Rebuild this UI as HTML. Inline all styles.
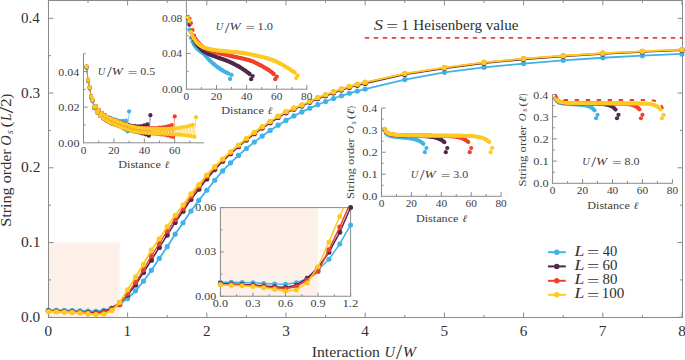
<!DOCTYPE html>
<html><head><meta charset="utf-8"><style>
html,body{margin:0;padding:0;background:#fff;}
svg{display:block;font-family:"Liberation Serif",serif;}
</style></head><body>
<svg width="685" height="360" viewBox="0 0 685 360">
<rect width="685" height="360" fill="#fff"/>
<rect x="48.5" y="242.55" width="71.18" height="74.75" fill="#fcf0e8"/>
<line x1="48.5" y1="0" x2="48.5" y2="318" stroke="#8a8a8a" stroke-width="1"/>
<line x1="48" y1="317.5" x2="683" y2="317.5" stroke="#8a8a8a" stroke-width="1"/>
<line x1="48" y1="0.5" x2="683" y2="0.5" stroke="#8a8a8a" stroke-width="1"/>
<line x1="682.5" y1="0" x2="682.5" y2="318" stroke="#8a8a8a" stroke-width="1"/>
<line x1="48.4" y1="317.5" x2="48.4" y2="312.5" stroke="#8a8a8a" stroke-width="1"/>
<line x1="48.4" y1="0.5" x2="48.4" y2="5.5" stroke="#8a8a8a" stroke-width="1"/>
<line x1="88" y1="317.5" x2="88" y2="315" stroke="#8a8a8a" stroke-width="1"/>
<line x1="88" y1="0.5" x2="88" y2="3" stroke="#8a8a8a" stroke-width="1"/>
<line x1="127.6" y1="317.5" x2="127.6" y2="312.5" stroke="#8a8a8a" stroke-width="1"/>
<line x1="127.6" y1="0.5" x2="127.6" y2="5.5" stroke="#8a8a8a" stroke-width="1"/>
<line x1="167.2" y1="317.5" x2="167.2" y2="315" stroke="#8a8a8a" stroke-width="1"/>
<line x1="167.2" y1="0.5" x2="167.2" y2="3" stroke="#8a8a8a" stroke-width="1"/>
<line x1="206.8" y1="317.5" x2="206.8" y2="312.5" stroke="#8a8a8a" stroke-width="1"/>
<line x1="206.8" y1="0.5" x2="206.8" y2="5.5" stroke="#8a8a8a" stroke-width="1"/>
<line x1="246.4" y1="317.5" x2="246.4" y2="315" stroke="#8a8a8a" stroke-width="1"/>
<line x1="246.4" y1="0.5" x2="246.4" y2="3" stroke="#8a8a8a" stroke-width="1"/>
<line x1="286" y1="317.5" x2="286" y2="312.5" stroke="#8a8a8a" stroke-width="1"/>
<line x1="286" y1="0.5" x2="286" y2="5.5" stroke="#8a8a8a" stroke-width="1"/>
<line x1="325.6" y1="317.5" x2="325.6" y2="315" stroke="#8a8a8a" stroke-width="1"/>
<line x1="325.6" y1="0.5" x2="325.6" y2="3" stroke="#8a8a8a" stroke-width="1"/>
<line x1="365.2" y1="317.5" x2="365.2" y2="312.5" stroke="#8a8a8a" stroke-width="1"/>
<line x1="365.2" y1="0.5" x2="365.2" y2="5.5" stroke="#8a8a8a" stroke-width="1"/>
<line x1="404.8" y1="317.5" x2="404.8" y2="315" stroke="#8a8a8a" stroke-width="1"/>
<line x1="404.8" y1="0.5" x2="404.8" y2="3" stroke="#8a8a8a" stroke-width="1"/>
<line x1="444.4" y1="317.5" x2="444.4" y2="312.5" stroke="#8a8a8a" stroke-width="1"/>
<line x1="444.4" y1="0.5" x2="444.4" y2="5.5" stroke="#8a8a8a" stroke-width="1"/>
<line x1="484" y1="317.5" x2="484" y2="315" stroke="#8a8a8a" stroke-width="1"/>
<line x1="484" y1="0.5" x2="484" y2="3" stroke="#8a8a8a" stroke-width="1"/>
<line x1="523.6" y1="317.5" x2="523.6" y2="312.5" stroke="#8a8a8a" stroke-width="1"/>
<line x1="523.6" y1="0.5" x2="523.6" y2="5.5" stroke="#8a8a8a" stroke-width="1"/>
<line x1="563.2" y1="317.5" x2="563.2" y2="315" stroke="#8a8a8a" stroke-width="1"/>
<line x1="563.2" y1="0.5" x2="563.2" y2="3" stroke="#8a8a8a" stroke-width="1"/>
<line x1="602.8" y1="317.5" x2="602.8" y2="312.5" stroke="#8a8a8a" stroke-width="1"/>
<line x1="602.8" y1="0.5" x2="602.8" y2="5.5" stroke="#8a8a8a" stroke-width="1"/>
<line x1="642.4" y1="317.5" x2="642.4" y2="315" stroke="#8a8a8a" stroke-width="1"/>
<line x1="642.4" y1="0.5" x2="642.4" y2="3" stroke="#8a8a8a" stroke-width="1"/>
<line x1="682" y1="317.5" x2="682" y2="312.5" stroke="#8a8a8a" stroke-width="1"/>
<line x1="682" y1="0.5" x2="682" y2="5.5" stroke="#8a8a8a" stroke-width="1"/>
<line x1="48.5" y1="317.3" x2="53.5" y2="317.3" stroke="#8a8a8a" stroke-width="1"/>
<line x1="682.5" y1="317.3" x2="677.5" y2="317.3" stroke="#8a8a8a" stroke-width="1"/>
<line x1="48.5" y1="279.93" x2="51" y2="279.93" stroke="#8a8a8a" stroke-width="1"/>
<line x1="682.5" y1="279.93" x2="680" y2="279.93" stroke="#8a8a8a" stroke-width="1"/>
<line x1="48.5" y1="242.55" x2="53.5" y2="242.55" stroke="#8a8a8a" stroke-width="1"/>
<line x1="682.5" y1="242.55" x2="677.5" y2="242.55" stroke="#8a8a8a" stroke-width="1"/>
<line x1="48.5" y1="205.18" x2="51" y2="205.18" stroke="#8a8a8a" stroke-width="1"/>
<line x1="682.5" y1="205.18" x2="680" y2="205.18" stroke="#8a8a8a" stroke-width="1"/>
<line x1="48.5" y1="167.8" x2="53.5" y2="167.8" stroke="#8a8a8a" stroke-width="1"/>
<line x1="682.5" y1="167.8" x2="677.5" y2="167.8" stroke="#8a8a8a" stroke-width="1"/>
<line x1="48.5" y1="130.43" x2="51" y2="130.43" stroke="#8a8a8a" stroke-width="1"/>
<line x1="682.5" y1="130.43" x2="680" y2="130.43" stroke="#8a8a8a" stroke-width="1"/>
<line x1="48.5" y1="93.05" x2="53.5" y2="93.05" stroke="#8a8a8a" stroke-width="1"/>
<line x1="682.5" y1="93.05" x2="677.5" y2="93.05" stroke="#8a8a8a" stroke-width="1"/>
<line x1="48.5" y1="55.68" x2="51" y2="55.68" stroke="#8a8a8a" stroke-width="1"/>
<line x1="682.5" y1="55.68" x2="680" y2="55.68" stroke="#8a8a8a" stroke-width="1"/>
<line x1="48.5" y1="18.3" x2="53.5" y2="18.3" stroke="#8a8a8a" stroke-width="1"/>
<line x1="682.5" y1="18.3" x2="677.5" y2="18.3" stroke="#8a8a8a" stroke-width="1"/>
<text x="21.09" y="321.9" font-size="15.4" textLength="19.12" lengthAdjust="spacingAndGlyphs" fill="#303030">0.0</text>
<text x="21.08" y="247.15" font-size="15.4" textLength="19.46" lengthAdjust="spacingAndGlyphs" fill="#303030">0.1</text>
<text x="21.08" y="172.4" font-size="15.4" textLength="19.37" lengthAdjust="spacingAndGlyphs" fill="#303030">0.2</text>
<text x="21.09" y="97.65" font-size="15.4" textLength="19.12" lengthAdjust="spacingAndGlyphs" fill="#303030">0.3</text>
<text x="21.1" y="22.9" font-size="15.4" textLength="18.72" lengthAdjust="spacingAndGlyphs" fill="#303030">0.4</text>
<text x="44.6" y="335.5" font-size="15.2" textLength="7.6" lengthAdjust="spacingAndGlyphs" fill="#303030">0</text>
<text x="123.61" y="335.5" font-size="15.2" textLength="7.6" lengthAdjust="spacingAndGlyphs" fill="#303030">1</text>
<text x="203.08" y="335.5" font-size="15.2" textLength="7.6" lengthAdjust="spacingAndGlyphs" fill="#303030">2</text>
<text x="282.16" y="335.5" font-size="15.2" textLength="7.6" lengthAdjust="spacingAndGlyphs" fill="#303030">3</text>
<text x="361.36" y="335.5" font-size="15.2" textLength="7.6" lengthAdjust="spacingAndGlyphs" fill="#303030">4</text>
<text x="440.45" y="335.5" font-size="15.2" textLength="7.6" lengthAdjust="spacingAndGlyphs" fill="#303030">5</text>
<text x="519.72" y="335.5" font-size="15.2" textLength="7.6" lengthAdjust="spacingAndGlyphs" fill="#303030">6</text>
<text x="598.73" y="335.5" font-size="15.2" textLength="7.6" lengthAdjust="spacingAndGlyphs" fill="#303030">7</text>
<text x="678.2" y="335.5" font-size="15.2" textLength="7.6" lengthAdjust="spacingAndGlyphs" fill="#303030">8</text>
<text x="311.75" y="356.7" font-size="15.6" textLength="68.2" lengthAdjust="spacingAndGlyphs" fill="#303030">Interaction</text>
<text x="384.39" y="356.7" font-size="15.6" font-style="italic" textLength="10.54" lengthAdjust="spacingAndGlyphs" fill="#303030">U</text>
<text x="396" y="359.4" font-size="20.6" textLength="6.16" lengthAdjust="spacingAndGlyphs" fill="#303030">/</text>
<text x="402.66" y="356.7" font-size="15.6" font-style="italic" textLength="13.31" lengthAdjust="spacingAndGlyphs" fill="#303030">W</text>
<g transform="translate(10.8,0) rotate(-90)">
<text x="-226.85" y="0" font-size="14.8" textLength="77.61" lengthAdjust="spacingAndGlyphs" fill="#303030">String order</text>
<text x="-145.72" y="0" font-size="14.8" font-style="italic" textLength="10.44" lengthAdjust="spacingAndGlyphs" fill="#303030">O</text>
<text x="-133.99" y="2.3" font-size="10.5" font-style="italic" textLength="3.67" lengthAdjust="spacingAndGlyphs" fill="#3d3d3d">s</text>
<text x="-127.49" y="0" font-size="14.8" textLength="5.88" lengthAdjust="spacingAndGlyphs" fill="#303030">(</text>
<text x="-120.87" y="0" font-size="14.8" font-style="italic" textLength="7.06" lengthAdjust="spacingAndGlyphs" fill="#303030">L</text>
<text x="-113.3" y="2.6" font-size="20.6" textLength="6.67" lengthAdjust="spacingAndGlyphs" fill="#303030">/</text>
<text x="-106.85" y="0" font-size="14.8" textLength="8.38" lengthAdjust="spacingAndGlyphs" fill="#303030">2</text>
<text x="-98.75" y="0" font-size="14.8" textLength="5" lengthAdjust="spacingAndGlyphs" fill="#303030">)</text>
</g>
<line x1="364.8" y1="37.9" x2="683" y2="37.9" stroke="#f0402a" stroke-width="1.9" stroke-dasharray="4.4 4.6"/>
<text x="373.81" y="29.8" font-size="14.8" font-style="italic" textLength="9.26" lengthAdjust="spacingAndGlyphs" fill="#303030">S</text>
<text x="386.35" y="30.9" font-size="14.8" textLength="11.89" lengthAdjust="spacingAndGlyphs" fill="#303030">=</text>
<text x="401.18" y="29.8" font-size="14.8" textLength="7.75" lengthAdjust="spacingAndGlyphs" fill="#303030">1</text>
<text x="413.35" y="29.8" font-size="14.8" textLength="105.2" lengthAdjust="spacingAndGlyphs" fill="#303030">Heisenberg value</text>
<polyline points="48.4,310.2 56.32,310.27 64.24,310.35 72.16,310.5 80.08,310.8 88,311.1 95.92,311.25 103.84,310.42 111.76,308.48 119.68,303.99 127.6,298.61 135.52,290.84 143.44,281.2 151.36,270.36 159.28,258.4 167.2,246.66 175.12,234.18 183.04,222.74 190.96,211.01 198.88,200.32 206.8,190.23 214.72,180.26 222.64,170.94 230.56,162.81 238.48,155.39 246.4,148.5 254.32,142.09 262.24,136.05 270.16,130.43 278.08,125.22 286,120.41 293.92,115.97 301.84,111.89 309.76,108.16 317.68,104.71 325.6,101.49 333.52,98.51 341.44,95.77 349.36,93.27 357.28,91.06 365.2,89.01 404.8,79.59 444.4,72.34 484,67.34 523.6,63.6 563.2,60.31 602.8,57.77 642.4,55.68 682,53.96" fill="none" stroke="#41b2e8" stroke-width="1.8" stroke-linejoin="round"/>
<circle cx="48.4" cy="310.2" r="2.6" fill="#41b2e8"/>
<circle cx="56.32" cy="310.27" r="2.6" fill="#41b2e8"/>
<circle cx="64.24" cy="310.35" r="2.6" fill="#41b2e8"/>
<circle cx="72.16" cy="310.5" r="2.6" fill="#41b2e8"/>
<circle cx="80.08" cy="310.8" r="2.6" fill="#41b2e8"/>
<circle cx="88" cy="311.1" r="2.6" fill="#41b2e8"/>
<circle cx="95.92" cy="311.25" r="2.6" fill="#41b2e8"/>
<circle cx="103.84" cy="310.42" r="2.6" fill="#41b2e8"/>
<circle cx="111.76" cy="308.48" r="2.6" fill="#41b2e8"/>
<circle cx="119.68" cy="303.99" r="2.6" fill="#41b2e8"/>
<circle cx="127.6" cy="298.61" r="2.6" fill="#41b2e8"/>
<circle cx="135.52" cy="290.84" r="2.6" fill="#41b2e8"/>
<circle cx="143.44" cy="281.2" r="2.6" fill="#41b2e8"/>
<circle cx="151.36" cy="270.36" r="2.6" fill="#41b2e8"/>
<circle cx="159.28" cy="258.4" r="2.6" fill="#41b2e8"/>
<circle cx="167.2" cy="246.66" r="2.6" fill="#41b2e8"/>
<circle cx="175.12" cy="234.18" r="2.6" fill="#41b2e8"/>
<circle cx="183.04" cy="222.74" r="2.6" fill="#41b2e8"/>
<circle cx="190.96" cy="211.01" r="2.6" fill="#41b2e8"/>
<circle cx="198.88" cy="200.32" r="2.6" fill="#41b2e8"/>
<circle cx="206.8" cy="190.23" r="2.6" fill="#41b2e8"/>
<circle cx="214.72" cy="180.26" r="2.6" fill="#41b2e8"/>
<circle cx="222.64" cy="170.94" r="2.6" fill="#41b2e8"/>
<circle cx="230.56" cy="162.81" r="2.6" fill="#41b2e8"/>
<circle cx="238.48" cy="155.39" r="2.6" fill="#41b2e8"/>
<circle cx="246.4" cy="148.5" r="2.6" fill="#41b2e8"/>
<circle cx="254.32" cy="142.09" r="2.6" fill="#41b2e8"/>
<circle cx="262.24" cy="136.05" r="2.6" fill="#41b2e8"/>
<circle cx="270.16" cy="130.43" r="2.6" fill="#41b2e8"/>
<circle cx="278.08" cy="125.22" r="2.6" fill="#41b2e8"/>
<circle cx="286" cy="120.41" r="2.6" fill="#41b2e8"/>
<circle cx="293.92" cy="115.97" r="2.6" fill="#41b2e8"/>
<circle cx="301.84" cy="111.89" r="2.6" fill="#41b2e8"/>
<circle cx="309.76" cy="108.16" r="2.6" fill="#41b2e8"/>
<circle cx="317.68" cy="104.71" r="2.6" fill="#41b2e8"/>
<circle cx="325.6" cy="101.49" r="2.6" fill="#41b2e8"/>
<circle cx="333.52" cy="98.51" r="2.6" fill="#41b2e8"/>
<circle cx="341.44" cy="95.77" r="2.6" fill="#41b2e8"/>
<circle cx="349.36" cy="93.27" r="2.6" fill="#41b2e8"/>
<circle cx="357.28" cy="91.06" r="2.6" fill="#41b2e8"/>
<circle cx="365.2" cy="89.01" r="2.6" fill="#41b2e8"/>
<circle cx="404.8" cy="79.59" r="2.6" fill="#41b2e8"/>
<circle cx="444.4" cy="72.34" r="2.6" fill="#41b2e8"/>
<circle cx="484" cy="67.34" r="2.6" fill="#41b2e8"/>
<circle cx="523.6" cy="63.6" r="2.6" fill="#41b2e8"/>
<circle cx="563.2" cy="60.31" r="2.6" fill="#41b2e8"/>
<circle cx="602.8" cy="57.77" r="2.6" fill="#41b2e8"/>
<circle cx="642.4" cy="55.68" r="2.6" fill="#41b2e8"/>
<circle cx="682" cy="53.96" r="2.6" fill="#41b2e8"/>
<polyline points="48.4,310.87 56.32,311.1 64.24,311.32 72.16,311.62 80.08,312.07 88,312.52 95.92,312.81 103.84,311.69 111.76,308.26 119.68,302.72 127.6,295.1 135.52,284.93 143.44,272.45 151.36,260.19 159.28,247.39 167.2,235.09 175.12,222.45 183.04,211.23 190.96,199.42 198.88,189.22 206.8,178.88 214.72,169.61 222.64,161.22 230.56,153.66 238.48,146.69 246.4,140.01 254.32,133.77 262.24,128.07 270.16,122.73 278.08,117.48 286,112.82 293.92,109.27 301.84,105.98 309.76,102.26 317.68,98.69 325.6,95.69 333.52,92.89 341.44,90.07 349.36,87.49 357.28,85.35 365.2,83.42 404.8,74.51 444.4,68.34 484,63.14 523.6,59.41 563.2,56.37 602.8,53.89 642.4,51.99 682,50.21" fill="none" stroke="#50284a" stroke-width="1.6" stroke-linejoin="round"/>
<circle cx="48.4" cy="310.87" r="2.6" fill="#50284a"/>
<circle cx="56.32" cy="311.1" r="2.6" fill="#50284a"/>
<circle cx="64.24" cy="311.32" r="2.6" fill="#50284a"/>
<circle cx="72.16" cy="311.62" r="2.6" fill="#50284a"/>
<circle cx="80.08" cy="312.07" r="2.6" fill="#50284a"/>
<circle cx="88" cy="312.52" r="2.6" fill="#50284a"/>
<circle cx="95.92" cy="312.81" r="2.6" fill="#50284a"/>
<circle cx="103.84" cy="311.69" r="2.6" fill="#50284a"/>
<circle cx="111.76" cy="308.26" r="2.6" fill="#50284a"/>
<circle cx="119.68" cy="302.72" r="2.6" fill="#50284a"/>
<circle cx="127.6" cy="295.1" r="2.6" fill="#50284a"/>
<circle cx="135.52" cy="284.93" r="2.6" fill="#50284a"/>
<circle cx="143.44" cy="272.45" r="2.6" fill="#50284a"/>
<circle cx="151.36" cy="260.19" r="2.6" fill="#50284a"/>
<circle cx="159.28" cy="247.39" r="2.6" fill="#50284a"/>
<circle cx="167.2" cy="235.09" r="2.6" fill="#50284a"/>
<circle cx="175.12" cy="222.45" r="2.6" fill="#50284a"/>
<circle cx="183.04" cy="211.23" r="2.6" fill="#50284a"/>
<circle cx="190.96" cy="199.42" r="2.6" fill="#50284a"/>
<circle cx="198.88" cy="189.22" r="2.6" fill="#50284a"/>
<circle cx="206.8" cy="178.88" r="2.6" fill="#50284a"/>
<circle cx="214.72" cy="169.61" r="2.6" fill="#50284a"/>
<circle cx="222.64" cy="161.22" r="2.6" fill="#50284a"/>
<circle cx="230.56" cy="153.66" r="2.6" fill="#50284a"/>
<circle cx="238.48" cy="146.69" r="2.6" fill="#50284a"/>
<circle cx="246.4" cy="140.01" r="2.6" fill="#50284a"/>
<circle cx="254.32" cy="133.77" r="2.6" fill="#50284a"/>
<circle cx="262.24" cy="128.07" r="2.6" fill="#50284a"/>
<circle cx="270.16" cy="122.73" r="2.6" fill="#50284a"/>
<circle cx="278.08" cy="117.48" r="2.6" fill="#50284a"/>
<circle cx="286" cy="112.82" r="2.6" fill="#50284a"/>
<circle cx="293.92" cy="109.27" r="2.6" fill="#50284a"/>
<circle cx="301.84" cy="105.98" r="2.6" fill="#50284a"/>
<circle cx="309.76" cy="102.26" r="2.6" fill="#50284a"/>
<circle cx="317.68" cy="98.69" r="2.6" fill="#50284a"/>
<circle cx="325.6" cy="95.69" r="2.6" fill="#50284a"/>
<circle cx="333.52" cy="92.89" r="2.6" fill="#50284a"/>
<circle cx="341.44" cy="90.07" r="2.6" fill="#50284a"/>
<circle cx="349.36" cy="87.49" r="2.6" fill="#50284a"/>
<circle cx="357.28" cy="85.35" r="2.6" fill="#50284a"/>
<circle cx="365.2" cy="83.42" r="2.6" fill="#50284a"/>
<circle cx="404.8" cy="74.51" r="2.6" fill="#50284a"/>
<circle cx="444.4" cy="68.34" r="2.6" fill="#50284a"/>
<circle cx="484" cy="63.14" r="2.6" fill="#50284a"/>
<circle cx="523.6" cy="59.41" r="2.6" fill="#50284a"/>
<circle cx="563.2" cy="56.37" r="2.6" fill="#50284a"/>
<circle cx="602.8" cy="53.89" r="2.6" fill="#50284a"/>
<circle cx="642.4" cy="51.99" r="2.6" fill="#50284a"/>
<circle cx="682" cy="50.21" r="2.6" fill="#50284a"/>
<polyline points="48.4,311.25 56.32,311.47 64.24,311.69 72.16,311.99 80.08,312.52 88,313.04 95.92,313.49 103.84,312.37 111.76,309.08 119.68,304.74 127.6,293.83 135.52,282.24 143.44,269.83 151.36,255.86 159.28,243.65 167.2,231.09 175.12,219.43 183.04,208.57 190.96,196.57 198.88,186.41 206.8,176.43 214.72,167.78 222.64,159.9 230.56,152.56 238.48,145.65 246.4,139.01 254.32,132.78 262.24,127.12 270.16,121.8 278.08,116.53 286,111.85 293.92,108.38 301.84,105.16 309.76,101.41 317.68,97.78 325.6,94.77 333.52,91.97 341.44,89.11 349.36,86.48 357.28,84.35 365.2,82.44 404.8,73.62 444.4,67.63 484,62.4 523.6,58.67 563.2,55.68 602.8,53.21 642.4,51.34 682,49.55" fill="none" stroke="#f0402a" stroke-width="1.3" stroke-linejoin="round"/>
<circle cx="48.4" cy="311.25" r="2.6" fill="#f0402a"/>
<circle cx="56.32" cy="311.47" r="2.6" fill="#f0402a"/>
<circle cx="64.24" cy="311.69" r="2.6" fill="#f0402a"/>
<circle cx="72.16" cy="311.99" r="2.6" fill="#f0402a"/>
<circle cx="80.08" cy="312.52" r="2.6" fill="#f0402a"/>
<circle cx="88" cy="313.04" r="2.6" fill="#f0402a"/>
<circle cx="95.92" cy="313.49" r="2.6" fill="#f0402a"/>
<circle cx="103.84" cy="312.37" r="2.6" fill="#f0402a"/>
<circle cx="111.76" cy="309.08" r="2.6" fill="#f0402a"/>
<circle cx="119.68" cy="304.74" r="2.6" fill="#f0402a"/>
<circle cx="127.6" cy="293.83" r="2.6" fill="#f0402a"/>
<circle cx="135.52" cy="282.24" r="2.6" fill="#f0402a"/>
<circle cx="143.44" cy="269.83" r="2.6" fill="#f0402a"/>
<circle cx="151.36" cy="255.86" r="2.6" fill="#f0402a"/>
<circle cx="159.28" cy="243.65" r="2.6" fill="#f0402a"/>
<circle cx="167.2" cy="231.09" r="2.6" fill="#f0402a"/>
<circle cx="175.12" cy="219.43" r="2.6" fill="#f0402a"/>
<circle cx="183.04" cy="208.57" r="2.6" fill="#f0402a"/>
<circle cx="190.96" cy="196.57" r="2.6" fill="#f0402a"/>
<circle cx="198.88" cy="186.41" r="2.6" fill="#f0402a"/>
<circle cx="206.8" cy="176.43" r="2.6" fill="#f0402a"/>
<circle cx="214.72" cy="167.78" r="2.6" fill="#f0402a"/>
<circle cx="222.64" cy="159.9" r="2.6" fill="#f0402a"/>
<circle cx="230.56" cy="152.56" r="2.6" fill="#f0402a"/>
<circle cx="238.48" cy="145.65" r="2.6" fill="#f0402a"/>
<circle cx="246.4" cy="139.01" r="2.6" fill="#f0402a"/>
<circle cx="254.32" cy="132.78" r="2.6" fill="#f0402a"/>
<circle cx="262.24" cy="127.12" r="2.6" fill="#f0402a"/>
<circle cx="270.16" cy="121.8" r="2.6" fill="#f0402a"/>
<circle cx="278.08" cy="116.53" r="2.6" fill="#f0402a"/>
<circle cx="286" cy="111.85" r="2.6" fill="#f0402a"/>
<circle cx="293.92" cy="108.38" r="2.6" fill="#f0402a"/>
<circle cx="301.84" cy="105.16" r="2.6" fill="#f0402a"/>
<circle cx="309.76" cy="101.41" r="2.6" fill="#f0402a"/>
<circle cx="317.68" cy="97.78" r="2.6" fill="#f0402a"/>
<circle cx="325.6" cy="94.77" r="2.6" fill="#f0402a"/>
<circle cx="333.52" cy="91.97" r="2.6" fill="#f0402a"/>
<circle cx="341.44" cy="89.11" r="2.6" fill="#f0402a"/>
<circle cx="349.36" cy="86.48" r="2.6" fill="#f0402a"/>
<circle cx="357.28" cy="84.35" r="2.6" fill="#f0402a"/>
<circle cx="365.2" cy="82.44" r="2.6" fill="#f0402a"/>
<circle cx="404.8" cy="73.62" r="2.6" fill="#f0402a"/>
<circle cx="444.4" cy="67.63" r="2.6" fill="#f0402a"/>
<circle cx="484" cy="62.4" r="2.6" fill="#f0402a"/>
<circle cx="523.6" cy="58.67" r="2.6" fill="#f0402a"/>
<circle cx="563.2" cy="55.68" r="2.6" fill="#f0402a"/>
<circle cx="602.8" cy="53.21" r="2.6" fill="#f0402a"/>
<circle cx="642.4" cy="51.34" r="2.6" fill="#f0402a"/>
<circle cx="682" cy="49.55" r="2.6" fill="#f0402a"/>
<polyline points="48.4,311.54 56.32,311.77 64.24,311.99 72.16,312.37 80.08,312.96 88,313.71 95.92,314.61 103.84,314.09 111.76,310.57 119.68,302.35 127.6,289.79 135.52,276.94 143.44,264.23 151.36,250.03 159.28,238.74 167.2,226.7 175.12,215.27 183.04,205.03 190.96,193.96 198.88,184.69 206.8,174.98 214.72,166.63 222.64,158.98 230.56,151.79 238.48,145 246.4,138.45 254.32,132.29 262.24,126.7 270.16,121.46 278.08,116.22 286,111.59 293.92,108.18 301.84,105.01 309.76,101.29 317.68,97.68 325.6,94.7 333.52,91.93 341.44,89.08 349.36,86.47 357.28,84.35 365.2,82.44 404.8,73.62 444.4,67.63 484,62.4 523.6,58.67 563.2,55.68 602.8,53.21 642.4,51.34 682,49.55" fill="none" stroke="#fdca22" stroke-width="1.9" stroke-linejoin="round"/>
<circle cx="48.4" cy="311.54" r="2.6" fill="#fdca22"/>
<circle cx="56.32" cy="311.77" r="2.6" fill="#fdca22"/>
<circle cx="64.24" cy="311.99" r="2.6" fill="#fdca22"/>
<circle cx="72.16" cy="312.37" r="2.6" fill="#fdca22"/>
<circle cx="80.08" cy="312.96" r="2.6" fill="#fdca22"/>
<circle cx="88" cy="313.71" r="2.6" fill="#fdca22"/>
<circle cx="95.92" cy="314.61" r="2.6" fill="#fdca22"/>
<circle cx="103.84" cy="314.09" r="2.6" fill="#fdca22"/>
<circle cx="111.76" cy="310.57" r="2.6" fill="#fdca22"/>
<circle cx="119.68" cy="302.35" r="2.6" fill="#fdca22"/>
<circle cx="127.6" cy="289.79" r="2.6" fill="#fdca22"/>
<circle cx="135.52" cy="276.94" r="2.6" fill="#fdca22"/>
<circle cx="143.44" cy="264.23" r="2.6" fill="#fdca22"/>
<circle cx="151.36" cy="250.03" r="2.6" fill="#fdca22"/>
<circle cx="159.28" cy="238.74" r="2.6" fill="#fdca22"/>
<circle cx="167.2" cy="226.7" r="2.6" fill="#fdca22"/>
<circle cx="175.12" cy="215.27" r="2.6" fill="#fdca22"/>
<circle cx="183.04" cy="205.03" r="2.6" fill="#fdca22"/>
<circle cx="190.96" cy="193.96" r="2.6" fill="#fdca22"/>
<circle cx="198.88" cy="184.69" r="2.6" fill="#fdca22"/>
<circle cx="206.8" cy="174.98" r="2.6" fill="#fdca22"/>
<circle cx="214.72" cy="166.63" r="2.6" fill="#fdca22"/>
<circle cx="222.64" cy="158.98" r="2.6" fill="#fdca22"/>
<circle cx="230.56" cy="151.79" r="2.6" fill="#fdca22"/>
<circle cx="238.48" cy="145" r="2.6" fill="#fdca22"/>
<circle cx="246.4" cy="138.45" r="2.6" fill="#fdca22"/>
<circle cx="254.32" cy="132.29" r="2.6" fill="#fdca22"/>
<circle cx="262.24" cy="126.7" r="2.6" fill="#fdca22"/>
<circle cx="270.16" cy="121.46" r="2.6" fill="#fdca22"/>
<circle cx="278.08" cy="116.22" r="2.6" fill="#fdca22"/>
<circle cx="286" cy="111.59" r="2.6" fill="#fdca22"/>
<circle cx="293.92" cy="108.18" r="2.6" fill="#fdca22"/>
<circle cx="301.84" cy="105.01" r="2.6" fill="#fdca22"/>
<circle cx="309.76" cy="101.29" r="2.6" fill="#fdca22"/>
<circle cx="317.68" cy="97.68" r="2.6" fill="#fdca22"/>
<circle cx="325.6" cy="94.7" r="2.6" fill="#fdca22"/>
<circle cx="333.52" cy="91.93" r="2.6" fill="#fdca22"/>
<circle cx="341.44" cy="89.08" r="2.6" fill="#fdca22"/>
<circle cx="349.36" cy="86.47" r="2.6" fill="#fdca22"/>
<circle cx="357.28" cy="84.35" r="2.6" fill="#fdca22"/>
<circle cx="365.2" cy="82.44" r="2.6" fill="#fdca22"/>
<circle cx="404.8" cy="73.62" r="2.6" fill="#fdca22"/>
<circle cx="444.4" cy="67.63" r="2.6" fill="#fdca22"/>
<circle cx="484" cy="62.4" r="2.6" fill="#fdca22"/>
<circle cx="523.6" cy="58.67" r="2.6" fill="#fdca22"/>
<circle cx="563.2" cy="55.68" r="2.6" fill="#fdca22"/>
<circle cx="602.8" cy="53.21" r="2.6" fill="#fdca22"/>
<circle cx="642.4" cy="51.34" r="2.6" fill="#fdca22"/>
<circle cx="682" cy="49.55" r="2.6" fill="#fdca22"/>
<line x1="547.9" y1="252.2" x2="565.8" y2="252.2" stroke="#41b2e8" stroke-width="2.0"/>
<circle cx="556.8" cy="252.2" r="2.7" fill="#41b2e8"/>
<text x="574.58" y="255.8" font-size="14.8" font-style="italic" textLength="9.84" lengthAdjust="spacingAndGlyphs" fill="#303030">L</text>
<text x="586.9" y="256.9" font-size="14.8" textLength="12.37" lengthAdjust="spacingAndGlyphs" fill="#303030">=</text>
<text x="602.81" y="255.8" font-size="14.8" textLength="14.57" lengthAdjust="spacingAndGlyphs" fill="#303030">40</text>
<line x1="547.9" y1="266.4" x2="565.8" y2="266.4" stroke="#50284a" stroke-width="2.0"/>
<circle cx="556.8" cy="266.4" r="2.7" fill="#50284a"/>
<text x="574.58" y="270" font-size="14.8" font-style="italic" textLength="9.84" lengthAdjust="spacingAndGlyphs" fill="#303030">L</text>
<text x="586.9" y="271.1" font-size="14.8" textLength="12.37" lengthAdjust="spacingAndGlyphs" fill="#303030">=</text>
<text x="602.5" y="270" font-size="14.8" textLength="14.89" lengthAdjust="spacingAndGlyphs" fill="#303030">60</text>
<line x1="547.9" y1="280.8" x2="565.8" y2="280.8" stroke="#f0402a" stroke-width="2.0"/>
<circle cx="556.8" cy="280.8" r="2.7" fill="#f0402a"/>
<text x="574.58" y="284.4" font-size="14.8" font-style="italic" textLength="9.84" lengthAdjust="spacingAndGlyphs" fill="#303030">L</text>
<text x="586.9" y="285.5" font-size="14.8" textLength="12.37" lengthAdjust="spacingAndGlyphs" fill="#303030">=</text>
<text x="602.5" y="284.4" font-size="14.8" textLength="14.89" lengthAdjust="spacingAndGlyphs" fill="#303030">80</text>
<line x1="547.9" y1="294.8" x2="565.8" y2="294.8" stroke="#fdca22" stroke-width="2.0"/>
<circle cx="556.8" cy="294.8" r="2.7" fill="#fdca22"/>
<text x="574.58" y="298.4" font-size="14.8" font-style="italic" textLength="9.84" lengthAdjust="spacingAndGlyphs" fill="#303030">L</text>
<text x="586.9" y="299.5" font-size="14.8" textLength="12.37" lengthAdjust="spacingAndGlyphs" fill="#303030">=</text>
<text x="601.82" y="298.4" font-size="14.8" textLength="22.58" lengthAdjust="spacingAndGlyphs" fill="#303030">100</text>
<line x1="83.5" y1="53.7" x2="83.5" y2="143.3" stroke="#8a8a8a" stroke-width="1"/>
<line x1="83" y1="142.8" x2="204" y2="142.8" stroke="#8a8a8a" stroke-width="1"/>
<line x1="83.5" y1="107.16" x2="87.7" y2="107.16" stroke="#8a8a8a" stroke-width="1"/>
<line x1="83.5" y1="71.52" x2="87.7" y2="71.52" stroke="#8a8a8a" stroke-width="1"/>
<line x1="83.5" y1="124.98" x2="85.7" y2="124.98" stroke="#8a8a8a" stroke-width="1"/>
<line x1="83.5" y1="89.34" x2="85.7" y2="89.34" stroke="#8a8a8a" stroke-width="1"/>
<line x1="83.5" y1="53.7" x2="85.7" y2="53.7" stroke="#8a8a8a" stroke-width="1"/>
<line x1="113.9" y1="142.8" x2="113.9" y2="138.6" stroke="#8a8a8a" stroke-width="1"/>
<line x1="144.3" y1="142.8" x2="144.3" y2="138.6" stroke="#8a8a8a" stroke-width="1"/>
<line x1="174.7" y1="142.8" x2="174.7" y2="138.6" stroke="#8a8a8a" stroke-width="1"/>
<line x1="98.7" y1="142.8" x2="98.7" y2="140.6" stroke="#8a8a8a" stroke-width="1"/>
<line x1="129.1" y1="142.8" x2="129.1" y2="140.6" stroke="#8a8a8a" stroke-width="1"/>
<line x1="159.5" y1="142.8" x2="159.5" y2="140.6" stroke="#8a8a8a" stroke-width="1"/>
<line x1="189.9" y1="142.8" x2="189.9" y2="140.6" stroke="#8a8a8a" stroke-width="1"/>
<text x="58.21" y="146.8" font-size="10.3" textLength="21.27" lengthAdjust="spacingAndGlyphs" fill="#3d3d3d">0.00</text>
<text x="58.21" y="111.16" font-size="10.3" textLength="21.47" lengthAdjust="spacingAndGlyphs" fill="#3d3d3d">0.02</text>
<text x="58.22" y="75.52" font-size="10.3" textLength="20.96" lengthAdjust="spacingAndGlyphs" fill="#3d3d3d">0.04</text>
<text x="80.67" y="153.7" font-size="10.3" textLength="5.67" lengthAdjust="spacingAndGlyphs" fill="#3d3d3d">0</text>
<text x="108.21" y="153.7" font-size="10.3" textLength="11.33" lengthAdjust="spacingAndGlyphs" fill="#3d3d3d">20</text>
<text x="138.75" y="153.7" font-size="10.3" textLength="11.33" lengthAdjust="spacingAndGlyphs" fill="#3d3d3d">40</text>
<text x="169.03" y="153.7" font-size="10.3" textLength="11.33" lengthAdjust="spacingAndGlyphs" fill="#3d3d3d">60</text>
<text x="97.87" y="74.8" font-size="10.3" font-style="italic" textLength="7.49" lengthAdjust="spacingAndGlyphs" fill="#3d3d3d">U</text>
<text x="106.9" y="77.1" font-size="15" textLength="4.75" lengthAdjust="spacingAndGlyphs" fill="#303030">/</text>
<text x="111.73" y="74.8" font-size="10.3" font-style="italic" textLength="11.14" lengthAdjust="spacingAndGlyphs" fill="#3d3d3d">W</text>
<text x="127.75" y="75.6" font-size="10.3" textLength="9.58" lengthAdjust="spacingAndGlyphs" fill="#3d3d3d">=</text>
<text x="140.32" y="74.8" font-size="10.3" textLength="14.96" lengthAdjust="spacingAndGlyphs" fill="#3d3d3d">0.5</text>
<text x="118.23" y="167.5" font-size="10.3" textLength="42.57" lengthAdjust="spacingAndGlyphs" fill="#3d3d3d">Distance</text>
<text x="164.57" y="167.5" font-size="10.3" font-style="italic" textLength="4.7" lengthAdjust="spacingAndGlyphs" fill="#3d3d3d">ℓ</text>
<polyline points="86.54,68.13 88.06,81.5 89.58,88.73 91.1,97.85 92.62,101.37 94.14,108.5 95.66,105.98 97.18,112.41 98.7,109.97 100.22,115.88 101.74,112.95 103.26,118.4 104.78,115.16 106.3,120.42 107.82,116.95 109.34,122.08 110.86,118.35 112.38,123.42 113.9,119.38 115.42,124.61 116.94,120.18 118.46,125.88 119.98,120.73 121.5,127.3 123.02,120.89 124.54,129.04 126.06,120.5 127.58,131.39 129.1,111.44" fill="none" stroke="#41b2e8" stroke-width="0.6" stroke-linejoin="round"/>
<circle cx="86.54" cy="68.13" r="2.1" fill="#41b2e8"/>
<circle cx="88.06" cy="81.5" r="2.1" fill="#41b2e8"/>
<circle cx="89.58" cy="88.73" r="2.1" fill="#41b2e8"/>
<circle cx="91.1" cy="97.85" r="2.1" fill="#41b2e8"/>
<circle cx="92.62" cy="101.37" r="2.1" fill="#41b2e8"/>
<circle cx="94.14" cy="108.5" r="2.1" fill="#41b2e8"/>
<circle cx="95.66" cy="105.98" r="2.1" fill="#41b2e8"/>
<circle cx="97.18" cy="112.41" r="2.1" fill="#41b2e8"/>
<circle cx="98.7" cy="109.97" r="2.1" fill="#41b2e8"/>
<circle cx="100.22" cy="115.88" r="2.1" fill="#41b2e8"/>
<circle cx="101.74" cy="112.95" r="2.1" fill="#41b2e8"/>
<circle cx="103.26" cy="118.4" r="2.1" fill="#41b2e8"/>
<circle cx="104.78" cy="115.16" r="2.1" fill="#41b2e8"/>
<circle cx="106.3" cy="120.42" r="2.1" fill="#41b2e8"/>
<circle cx="107.82" cy="116.95" r="2.1" fill="#41b2e8"/>
<circle cx="109.34" cy="122.08" r="2.1" fill="#41b2e8"/>
<circle cx="110.86" cy="118.35" r="2.1" fill="#41b2e8"/>
<circle cx="112.38" cy="123.42" r="2.1" fill="#41b2e8"/>
<circle cx="113.9" cy="119.38" r="2.1" fill="#41b2e8"/>
<circle cx="115.42" cy="124.61" r="2.1" fill="#41b2e8"/>
<circle cx="116.94" cy="120.18" r="2.1" fill="#41b2e8"/>
<circle cx="118.46" cy="125.88" r="2.1" fill="#41b2e8"/>
<circle cx="119.98" cy="120.73" r="2.1" fill="#41b2e8"/>
<circle cx="121.5" cy="127.3" r="2.1" fill="#41b2e8"/>
<circle cx="123.02" cy="120.89" r="2.1" fill="#41b2e8"/>
<circle cx="124.54" cy="129.04" r="2.1" fill="#41b2e8"/>
<circle cx="126.06" cy="120.5" r="2.1" fill="#41b2e8"/>
<circle cx="127.58" cy="131.39" r="2.1" fill="#41b2e8"/>
<circle cx="129.1" cy="111.44" r="2.1" fill="#41b2e8"/>
<polyline points="86.54,66.71 88.06,80.07 89.58,87.31 91.1,96.43 92.62,99.95 94.14,107.09 95.66,106 97.18,112.43 98.7,110 100.22,115.93 101.74,113.02 103.26,118.48 104.78,115.28 106.3,120.54 107.82,117.16 109.34,122.25 110.86,118.69 112.38,123.63 113.9,119.94 115.42,124.81 116.94,121.07 118.46,125.96 119.98,122.18 121.5,127.08 123.02,123.21 124.54,128.16 126.06,124.18 127.58,129.3 129.1,125.2 130.62,130.48 132.14,125.93 133.66,131.3 135.18,126.2 136.7,132.01 138.22,126.23 139.74,132.74 141.26,125.98 142.78,133.54 144.3,125.39 145.82,134.49 147.34,124.41 148.86,135.74 150.38,115.18" fill="none" stroke="#50284a" stroke-width="0.6" stroke-linejoin="round"/>
<circle cx="86.54" cy="66.71" r="2.1" fill="#50284a"/>
<circle cx="88.06" cy="80.07" r="2.1" fill="#50284a"/>
<circle cx="89.58" cy="87.31" r="2.1" fill="#50284a"/>
<circle cx="91.1" cy="96.43" r="2.1" fill="#50284a"/>
<circle cx="92.62" cy="99.95" r="2.1" fill="#50284a"/>
<circle cx="94.14" cy="107.09" r="2.1" fill="#50284a"/>
<circle cx="95.66" cy="106" r="2.1" fill="#50284a"/>
<circle cx="97.18" cy="112.43" r="2.1" fill="#50284a"/>
<circle cx="98.7" cy="110" r="2.1" fill="#50284a"/>
<circle cx="100.22" cy="115.93" r="2.1" fill="#50284a"/>
<circle cx="101.74" cy="113.02" r="2.1" fill="#50284a"/>
<circle cx="103.26" cy="118.48" r="2.1" fill="#50284a"/>
<circle cx="104.78" cy="115.28" r="2.1" fill="#50284a"/>
<circle cx="106.3" cy="120.54" r="2.1" fill="#50284a"/>
<circle cx="107.82" cy="117.16" r="2.1" fill="#50284a"/>
<circle cx="109.34" cy="122.25" r="2.1" fill="#50284a"/>
<circle cx="110.86" cy="118.69" r="2.1" fill="#50284a"/>
<circle cx="112.38" cy="123.63" r="2.1" fill="#50284a"/>
<circle cx="113.9" cy="119.94" r="2.1" fill="#50284a"/>
<circle cx="115.42" cy="124.81" r="2.1" fill="#50284a"/>
<circle cx="116.94" cy="121.07" r="2.1" fill="#50284a"/>
<circle cx="118.46" cy="125.96" r="2.1" fill="#50284a"/>
<circle cx="119.98" cy="122.18" r="2.1" fill="#50284a"/>
<circle cx="121.5" cy="127.08" r="2.1" fill="#50284a"/>
<circle cx="123.02" cy="123.21" r="2.1" fill="#50284a"/>
<circle cx="124.54" cy="128.16" r="2.1" fill="#50284a"/>
<circle cx="126.06" cy="124.18" r="2.1" fill="#50284a"/>
<circle cx="127.58" cy="129.3" r="2.1" fill="#50284a"/>
<circle cx="129.1" cy="125.2" r="2.1" fill="#50284a"/>
<circle cx="130.62" cy="130.48" r="2.1" fill="#50284a"/>
<circle cx="132.14" cy="125.93" r="2.1" fill="#50284a"/>
<circle cx="133.66" cy="131.3" r="2.1" fill="#50284a"/>
<circle cx="135.18" cy="126.2" r="2.1" fill="#50284a"/>
<circle cx="136.7" cy="132.01" r="2.1" fill="#50284a"/>
<circle cx="138.22" cy="126.23" r="2.1" fill="#50284a"/>
<circle cx="139.74" cy="132.74" r="2.1" fill="#50284a"/>
<circle cx="141.26" cy="125.98" r="2.1" fill="#50284a"/>
<circle cx="142.78" cy="133.54" r="2.1" fill="#50284a"/>
<circle cx="144.3" cy="125.39" r="2.1" fill="#50284a"/>
<circle cx="145.82" cy="134.49" r="2.1" fill="#50284a"/>
<circle cx="147.34" cy="124.41" r="2.1" fill="#50284a"/>
<circle cx="148.86" cy="135.74" r="2.1" fill="#50284a"/>
<circle cx="150.38" cy="115.18" r="2.1" fill="#50284a"/>
<polyline points="86.54,66.71 88.06,80.07 89.58,87.31 91.1,96.43 92.62,99.95 94.14,107.09 95.66,106 97.18,112.44 98.7,110.01 100.22,115.94 101.74,113.04 103.26,118.5 104.78,115.31 106.3,120.57 107.82,117.2 109.34,122.29 110.86,118.75 112.38,123.68 113.9,120.02 115.42,124.89 116.94,121.19 118.46,126.06 119.98,122.35 121.5,127.19 123.02,123.45 124.54,128.28 126.06,124.52 127.58,129.39 129.1,125.67 130.62,130.52 132.14,126.6 133.66,131.24 135.18,127.15 136.7,131.78 138.22,127.58 139.74,132.22 141.26,127.88 142.78,132.57 144.3,128.08 145.82,132.85 147.34,128.18 148.86,133.12 150.38,128.2 151.9,133.39 153.42,128.14 154.94,133.67 156.46,127.98 157.98,133.97 159.5,127.71 161.02,134.33 162.54,127.31 164.06,134.77 165.58,126.77 167.1,135.33 168.62,126.05 170.14,136.03 171.66,125.1 173.18,136.89 174.7,116.43" fill="none" stroke="#f0402a" stroke-width="0.6" stroke-linejoin="round"/>
<circle cx="86.54" cy="66.71" r="2.1" fill="#f0402a"/>
<circle cx="88.06" cy="80.07" r="2.1" fill="#f0402a"/>
<circle cx="89.58" cy="87.31" r="2.1" fill="#f0402a"/>
<circle cx="91.1" cy="96.43" r="2.1" fill="#f0402a"/>
<circle cx="92.62" cy="99.95" r="2.1" fill="#f0402a"/>
<circle cx="94.14" cy="107.09" r="2.1" fill="#f0402a"/>
<circle cx="95.66" cy="106" r="2.1" fill="#f0402a"/>
<circle cx="97.18" cy="112.44" r="2.1" fill="#f0402a"/>
<circle cx="98.7" cy="110.01" r="2.1" fill="#f0402a"/>
<circle cx="100.22" cy="115.94" r="2.1" fill="#f0402a"/>
<circle cx="101.74" cy="113.04" r="2.1" fill="#f0402a"/>
<circle cx="103.26" cy="118.5" r="2.1" fill="#f0402a"/>
<circle cx="104.78" cy="115.31" r="2.1" fill="#f0402a"/>
<circle cx="106.3" cy="120.57" r="2.1" fill="#f0402a"/>
<circle cx="107.82" cy="117.2" r="2.1" fill="#f0402a"/>
<circle cx="109.34" cy="122.29" r="2.1" fill="#f0402a"/>
<circle cx="110.86" cy="118.75" r="2.1" fill="#f0402a"/>
<circle cx="112.38" cy="123.68" r="2.1" fill="#f0402a"/>
<circle cx="113.9" cy="120.02" r="2.1" fill="#f0402a"/>
<circle cx="115.42" cy="124.89" r="2.1" fill="#f0402a"/>
<circle cx="116.94" cy="121.19" r="2.1" fill="#f0402a"/>
<circle cx="118.46" cy="126.06" r="2.1" fill="#f0402a"/>
<circle cx="119.98" cy="122.35" r="2.1" fill="#f0402a"/>
<circle cx="121.5" cy="127.19" r="2.1" fill="#f0402a"/>
<circle cx="123.02" cy="123.45" r="2.1" fill="#f0402a"/>
<circle cx="124.54" cy="128.28" r="2.1" fill="#f0402a"/>
<circle cx="126.06" cy="124.52" r="2.1" fill="#f0402a"/>
<circle cx="127.58" cy="129.39" r="2.1" fill="#f0402a"/>
<circle cx="129.1" cy="125.67" r="2.1" fill="#f0402a"/>
<circle cx="130.62" cy="130.52" r="2.1" fill="#f0402a"/>
<circle cx="132.14" cy="126.6" r="2.1" fill="#f0402a"/>
<circle cx="133.66" cy="131.24" r="2.1" fill="#f0402a"/>
<circle cx="135.18" cy="127.15" r="2.1" fill="#f0402a"/>
<circle cx="136.7" cy="131.78" r="2.1" fill="#f0402a"/>
<circle cx="138.22" cy="127.58" r="2.1" fill="#f0402a"/>
<circle cx="139.74" cy="132.22" r="2.1" fill="#f0402a"/>
<circle cx="141.26" cy="127.88" r="2.1" fill="#f0402a"/>
<circle cx="142.78" cy="132.57" r="2.1" fill="#f0402a"/>
<circle cx="144.3" cy="128.08" r="2.1" fill="#f0402a"/>
<circle cx="145.82" cy="132.85" r="2.1" fill="#f0402a"/>
<circle cx="147.34" cy="128.18" r="2.1" fill="#f0402a"/>
<circle cx="148.86" cy="133.12" r="2.1" fill="#f0402a"/>
<circle cx="150.38" cy="128.2" r="2.1" fill="#f0402a"/>
<circle cx="151.9" cy="133.39" r="2.1" fill="#f0402a"/>
<circle cx="153.42" cy="128.14" r="2.1" fill="#f0402a"/>
<circle cx="154.94" cy="133.67" r="2.1" fill="#f0402a"/>
<circle cx="156.46" cy="127.98" r="2.1" fill="#f0402a"/>
<circle cx="157.98" cy="133.97" r="2.1" fill="#f0402a"/>
<circle cx="159.5" cy="127.71" r="2.1" fill="#f0402a"/>
<circle cx="161.02" cy="134.33" r="2.1" fill="#f0402a"/>
<circle cx="162.54" cy="127.31" r="2.1" fill="#f0402a"/>
<circle cx="164.06" cy="134.77" r="2.1" fill="#f0402a"/>
<circle cx="165.58" cy="126.77" r="2.1" fill="#f0402a"/>
<circle cx="167.1" cy="135.33" r="2.1" fill="#f0402a"/>
<circle cx="168.62" cy="126.05" r="2.1" fill="#f0402a"/>
<circle cx="170.14" cy="136.03" r="2.1" fill="#f0402a"/>
<circle cx="171.66" cy="125.1" r="2.1" fill="#f0402a"/>
<circle cx="173.18" cy="136.89" r="2.1" fill="#f0402a"/>
<circle cx="174.7" cy="116.43" r="2.1" fill="#f0402a"/>
<polyline points="86.54,66.71 88.06,80.07 89.58,87.31 91.1,96.43 92.62,99.95 94.14,107.09 95.66,106.01 97.18,112.44 98.7,110.01 100.22,115.94 101.74,113.04 103.26,118.5 104.78,115.31 106.3,120.58 107.82,117.2 109.34,122.3 110.86,118.76 112.38,123.7 113.9,120.04 115.42,124.91 116.94,121.22 118.46,126.09 119.98,122.38 121.5,127.22 123.02,123.49 124.54,128.32 126.06,124.58 127.58,129.44 129.1,125.75 130.62,130.57 132.14,126.7 133.66,131.3 135.18,127.28 136.7,131.83 138.22,127.75 139.74,132.26 141.26,128.12 142.78,132.6 144.3,128.39 145.82,132.85 147.34,128.59 148.86,133.07 150.38,128.75 151.9,133.26 153.42,128.86 154.94,133.43 156.46,128.93 157.98,133.57 159.5,128.95 161.02,133.7 162.54,128.94 164.06,133.83 165.58,128.89 167.1,133.98 168.62,128.79 170.14,134.14 171.66,128.62 173.18,134.29 174.7,128.36 176.22,134.45 177.74,128.02 179.26,134.66 180.78,127.61 182.3,134.93 183.82,127.1 185.34,135.26 186.86,126.48 188.38,135.69 189.9,125.72 191.42,136.21 192.94,124.8 194.46,136.86 195.98,117.14" fill="none" stroke="#fdca22" stroke-width="0.6" stroke-linejoin="round"/>
<circle cx="86.54" cy="66.71" r="2.1" fill="#fdca22"/>
<circle cx="88.06" cy="80.07" r="2.1" fill="#fdca22"/>
<circle cx="89.58" cy="87.31" r="2.1" fill="#fdca22"/>
<circle cx="91.1" cy="96.43" r="2.1" fill="#fdca22"/>
<circle cx="92.62" cy="99.95" r="2.1" fill="#fdca22"/>
<circle cx="94.14" cy="107.09" r="2.1" fill="#fdca22"/>
<circle cx="95.66" cy="106.01" r="2.1" fill="#fdca22"/>
<circle cx="97.18" cy="112.44" r="2.1" fill="#fdca22"/>
<circle cx="98.7" cy="110.01" r="2.1" fill="#fdca22"/>
<circle cx="100.22" cy="115.94" r="2.1" fill="#fdca22"/>
<circle cx="101.74" cy="113.04" r="2.1" fill="#fdca22"/>
<circle cx="103.26" cy="118.5" r="2.1" fill="#fdca22"/>
<circle cx="104.78" cy="115.31" r="2.1" fill="#fdca22"/>
<circle cx="106.3" cy="120.58" r="2.1" fill="#fdca22"/>
<circle cx="107.82" cy="117.2" r="2.1" fill="#fdca22"/>
<circle cx="109.34" cy="122.3" r="2.1" fill="#fdca22"/>
<circle cx="110.86" cy="118.76" r="2.1" fill="#fdca22"/>
<circle cx="112.38" cy="123.7" r="2.1" fill="#fdca22"/>
<circle cx="113.9" cy="120.04" r="2.1" fill="#fdca22"/>
<circle cx="115.42" cy="124.91" r="2.1" fill="#fdca22"/>
<circle cx="116.94" cy="121.22" r="2.1" fill="#fdca22"/>
<circle cx="118.46" cy="126.09" r="2.1" fill="#fdca22"/>
<circle cx="119.98" cy="122.38" r="2.1" fill="#fdca22"/>
<circle cx="121.5" cy="127.22" r="2.1" fill="#fdca22"/>
<circle cx="123.02" cy="123.49" r="2.1" fill="#fdca22"/>
<circle cx="124.54" cy="128.32" r="2.1" fill="#fdca22"/>
<circle cx="126.06" cy="124.58" r="2.1" fill="#fdca22"/>
<circle cx="127.58" cy="129.44" r="2.1" fill="#fdca22"/>
<circle cx="129.1" cy="125.75" r="2.1" fill="#fdca22"/>
<circle cx="130.62" cy="130.57" r="2.1" fill="#fdca22"/>
<circle cx="132.14" cy="126.7" r="2.1" fill="#fdca22"/>
<circle cx="133.66" cy="131.3" r="2.1" fill="#fdca22"/>
<circle cx="135.18" cy="127.28" r="2.1" fill="#fdca22"/>
<circle cx="136.7" cy="131.83" r="2.1" fill="#fdca22"/>
<circle cx="138.22" cy="127.75" r="2.1" fill="#fdca22"/>
<circle cx="139.74" cy="132.26" r="2.1" fill="#fdca22"/>
<circle cx="141.26" cy="128.12" r="2.1" fill="#fdca22"/>
<circle cx="142.78" cy="132.6" r="2.1" fill="#fdca22"/>
<circle cx="144.3" cy="128.39" r="2.1" fill="#fdca22"/>
<circle cx="145.82" cy="132.85" r="2.1" fill="#fdca22"/>
<circle cx="147.34" cy="128.59" r="2.1" fill="#fdca22"/>
<circle cx="148.86" cy="133.07" r="2.1" fill="#fdca22"/>
<circle cx="150.38" cy="128.75" r="2.1" fill="#fdca22"/>
<circle cx="151.9" cy="133.26" r="2.1" fill="#fdca22"/>
<circle cx="153.42" cy="128.86" r="2.1" fill="#fdca22"/>
<circle cx="154.94" cy="133.43" r="2.1" fill="#fdca22"/>
<circle cx="156.46" cy="128.93" r="2.1" fill="#fdca22"/>
<circle cx="157.98" cy="133.57" r="2.1" fill="#fdca22"/>
<circle cx="159.5" cy="128.95" r="2.1" fill="#fdca22"/>
<circle cx="161.02" cy="133.7" r="2.1" fill="#fdca22"/>
<circle cx="162.54" cy="128.94" r="2.1" fill="#fdca22"/>
<circle cx="164.06" cy="133.83" r="2.1" fill="#fdca22"/>
<circle cx="165.58" cy="128.89" r="2.1" fill="#fdca22"/>
<circle cx="167.1" cy="133.98" r="2.1" fill="#fdca22"/>
<circle cx="168.62" cy="128.79" r="2.1" fill="#fdca22"/>
<circle cx="170.14" cy="134.14" r="2.1" fill="#fdca22"/>
<circle cx="171.66" cy="128.62" r="2.1" fill="#fdca22"/>
<circle cx="173.18" cy="134.29" r="2.1" fill="#fdca22"/>
<circle cx="174.7" cy="128.36" r="2.1" fill="#fdca22"/>
<circle cx="176.22" cy="134.45" r="2.1" fill="#fdca22"/>
<circle cx="177.74" cy="128.02" r="2.1" fill="#fdca22"/>
<circle cx="179.26" cy="134.66" r="2.1" fill="#fdca22"/>
<circle cx="180.78" cy="127.61" r="2.1" fill="#fdca22"/>
<circle cx="182.3" cy="134.93" r="2.1" fill="#fdca22"/>
<circle cx="183.82" cy="127.1" r="2.1" fill="#fdca22"/>
<circle cx="185.34" cy="135.26" r="2.1" fill="#fdca22"/>
<circle cx="186.86" cy="126.48" r="2.1" fill="#fdca22"/>
<circle cx="188.38" cy="135.69" r="2.1" fill="#fdca22"/>
<circle cx="189.9" cy="125.72" r="2.1" fill="#fdca22"/>
<circle cx="191.42" cy="136.21" r="2.1" fill="#fdca22"/>
<circle cx="192.94" cy="124.8" r="2.1" fill="#fdca22"/>
<circle cx="194.46" cy="136.86" r="2.1" fill="#fdca22"/>
<circle cx="195.98" cy="117.14" r="2.1" fill="#fdca22"/>
<line x1="186.4" y1="-0.17" x2="186.4" y2="89.7" stroke="#8a8a8a" stroke-width="1"/>
<line x1="185.9" y1="89.2" x2="307.5" y2="89.2" stroke="#8a8a8a" stroke-width="1"/>
<line x1="186.4" y1="53.45" x2="190.6" y2="53.45" stroke="#8a8a8a" stroke-width="1"/>
<line x1="186.4" y1="17.7" x2="190.6" y2="17.7" stroke="#8a8a8a" stroke-width="1"/>
<line x1="186.4" y1="71.33" x2="188.6" y2="71.33" stroke="#8a8a8a" stroke-width="1"/>
<line x1="186.4" y1="35.58" x2="188.6" y2="35.58" stroke="#8a8a8a" stroke-width="1"/>
<line x1="186.4" y1="-0.17" x2="188.6" y2="-0.17" stroke="#8a8a8a" stroke-width="1"/>
<line x1="216.5" y1="89.2" x2="216.5" y2="85" stroke="#8a8a8a" stroke-width="1"/>
<line x1="246.6" y1="89.2" x2="246.6" y2="85" stroke="#8a8a8a" stroke-width="1"/>
<line x1="276.7" y1="89.2" x2="276.7" y2="85" stroke="#8a8a8a" stroke-width="1"/>
<line x1="306.8" y1="89.2" x2="306.8" y2="85" stroke="#8a8a8a" stroke-width="1"/>
<line x1="201.45" y1="89.2" x2="201.45" y2="87" stroke="#8a8a8a" stroke-width="1"/>
<line x1="231.55" y1="89.2" x2="231.55" y2="87" stroke="#8a8a8a" stroke-width="1"/>
<line x1="261.65" y1="89.2" x2="261.65" y2="87" stroke="#8a8a8a" stroke-width="1"/>
<line x1="291.75" y1="89.2" x2="291.75" y2="87" stroke="#8a8a8a" stroke-width="1"/>
<text x="161.93" y="93.2" font-size="10.3" textLength="20.43" lengthAdjust="spacingAndGlyphs" fill="#3d3d3d">0.00</text>
<text x="161.94" y="57.45" font-size="10.3" textLength="20.13" lengthAdjust="spacingAndGlyphs" fill="#3d3d3d">0.04</text>
<text x="161.93" y="21.7" font-size="10.3" textLength="20.43" lengthAdjust="spacingAndGlyphs" fill="#3d3d3d">0.08</text>
<text x="183.57" y="100.1" font-size="10.3" textLength="5.67" lengthAdjust="spacingAndGlyphs" fill="#3d3d3d">0</text>
<text x="210.81" y="100.1" font-size="10.3" textLength="11.33" lengthAdjust="spacingAndGlyphs" fill="#3d3d3d">20</text>
<text x="241.05" y="100.1" font-size="10.3" textLength="11.33" lengthAdjust="spacingAndGlyphs" fill="#3d3d3d">40</text>
<text x="271.04" y="100.1" font-size="10.3" textLength="11.33" lengthAdjust="spacingAndGlyphs" fill="#3d3d3d">60</text>
<text x="301.14" y="100.1" font-size="10.3" textLength="11.33" lengthAdjust="spacingAndGlyphs" fill="#3d3d3d">80</text>
<text x="215.67" y="30.3" font-size="10.3" font-style="italic" textLength="7.49" lengthAdjust="spacingAndGlyphs" fill="#3d3d3d">U</text>
<text x="224.7" y="32.6" font-size="15" textLength="4.75" lengthAdjust="spacingAndGlyphs" fill="#303030">/</text>
<text x="229.53" y="30.3" font-size="10.3" font-style="italic" textLength="11.14" lengthAdjust="spacingAndGlyphs" fill="#3d3d3d">W</text>
<text x="245.55" y="31.1" font-size="10.3" textLength="9.58" lengthAdjust="spacingAndGlyphs" fill="#3d3d3d">=</text>
<text x="257.54" y="30.3" font-size="10.3" textLength="15.56" lengthAdjust="spacingAndGlyphs" fill="#3d3d3d">1.0</text>
<text x="221.23" y="114.2" font-size="10.3" textLength="42.57" lengthAdjust="spacingAndGlyphs" fill="#3d3d3d">Distance</text>
<text x="267.57" y="114.2" font-size="10.3" font-style="italic" textLength="4.7" lengthAdjust="spacingAndGlyphs" fill="#3d3d3d">ℓ</text>
<circle cx="187.91" cy="22.17" r="2.15" fill="#41b2e8"/>
<circle cx="189.41" cy="29.77" r="2.15" fill="#41b2e8"/>
<circle cx="190.91" cy="37.81" r="2.15" fill="#41b2e8"/>
<circle cx="192.42" cy="41.81" r="2.15" fill="#41b2e8"/>
<circle cx="193.93" cy="44.51" r="2.15" fill="#41b2e8"/>
<circle cx="195.43" cy="46.65" r="2.15" fill="#41b2e8"/>
<circle cx="196.94" cy="48.4" r="2.15" fill="#41b2e8"/>
<circle cx="198.44" cy="49.88" r="2.15" fill="#41b2e8"/>
<circle cx="199.94" cy="51.09" r="2.15" fill="#41b2e8"/>
<circle cx="201.45" cy="52.12" r="2.15" fill="#41b2e8"/>
<circle cx="202.96" cy="53.21" r="2.15" fill="#41b2e8"/>
<circle cx="204.46" cy="54.6" r="2.15" fill="#41b2e8"/>
<circle cx="205.97" cy="56.29" r="2.15" fill="#41b2e8"/>
<circle cx="207.47" cy="58.07" r="2.15" fill="#41b2e8"/>
<circle cx="208.97" cy="59.71" r="2.15" fill="#41b2e8"/>
<circle cx="210.48" cy="61.17" r="2.15" fill="#41b2e8"/>
<circle cx="211.99" cy="62.58" r="2.15" fill="#41b2e8"/>
<circle cx="213.49" cy="63.91" r="2.15" fill="#41b2e8"/>
<circle cx="215" cy="65.16" r="2.15" fill="#41b2e8"/>
<circle cx="216.5" cy="66.33" r="2.15" fill="#41b2e8"/>
<circle cx="218" cy="67.45" r="2.15" fill="#41b2e8"/>
<circle cx="219.51" cy="68.51" r="2.15" fill="#41b2e8"/>
<circle cx="221.01" cy="69.5" r="2.15" fill="#41b2e8"/>
<circle cx="222.52" cy="70.43" r="2.15" fill="#41b2e8"/>
<circle cx="224.03" cy="71.29" r="2.15" fill="#41b2e8"/>
<circle cx="225.53" cy="72.08" r="2.15" fill="#41b2e8"/>
<circle cx="227.03" cy="72.84" r="2.15" fill="#41b2e8"/>
<circle cx="228.54" cy="73.56" r="2.15" fill="#41b2e8"/>
<circle cx="230.05" cy="78.92" r="2.15" fill="#41b2e8"/>
<circle cx="231.55" cy="74.9" r="2.15" fill="#41b2e8"/>
<circle cx="187.91" cy="18.59" r="2.15" fill="#50284a"/>
<circle cx="189.41" cy="24.85" r="2.15" fill="#50284a"/>
<circle cx="190.91" cy="32" r="2.15" fill="#50284a"/>
<circle cx="192.42" cy="36.65" r="2.15" fill="#50284a"/>
<circle cx="193.93" cy="40.04" r="2.15" fill="#50284a"/>
<circle cx="195.43" cy="42.53" r="2.15" fill="#50284a"/>
<circle cx="196.94" cy="44.53" r="2.15" fill="#50284a"/>
<circle cx="198.44" cy="46.3" r="2.15" fill="#50284a"/>
<circle cx="199.94" cy="48.01" r="2.15" fill="#50284a"/>
<circle cx="201.45" cy="49.58" r="2.15" fill="#50284a"/>
<circle cx="202.96" cy="50.88" r="2.15" fill="#50284a"/>
<circle cx="204.46" cy="51.86" r="2.15" fill="#50284a"/>
<circle cx="205.97" cy="52.71" r="2.15" fill="#50284a"/>
<circle cx="207.47" cy="53.46" r="2.15" fill="#50284a"/>
<circle cx="208.97" cy="54.13" r="2.15" fill="#50284a"/>
<circle cx="210.48" cy="54.75" r="2.15" fill="#50284a"/>
<circle cx="211.99" cy="55.33" r="2.15" fill="#50284a"/>
<circle cx="213.49" cy="55.89" r="2.15" fill="#50284a"/>
<circle cx="215" cy="56.45" r="2.15" fill="#50284a"/>
<circle cx="216.5" cy="57.03" r="2.15" fill="#50284a"/>
<circle cx="218" cy="57.59" r="2.15" fill="#50284a"/>
<circle cx="219.51" cy="58.12" r="2.15" fill="#50284a"/>
<circle cx="221.01" cy="58.63" r="2.15" fill="#50284a"/>
<circle cx="222.52" cy="59.13" r="2.15" fill="#50284a"/>
<circle cx="224.03" cy="59.65" r="2.15" fill="#50284a"/>
<circle cx="225.53" cy="60.19" r="2.15" fill="#50284a"/>
<circle cx="227.03" cy="60.78" r="2.15" fill="#50284a"/>
<circle cx="228.54" cy="61.41" r="2.15" fill="#50284a"/>
<circle cx="230.05" cy="62.08" r="2.15" fill="#50284a"/>
<circle cx="231.55" cy="62.78" r="2.15" fill="#50284a"/>
<circle cx="233.06" cy="63.51" r="2.15" fill="#50284a"/>
<circle cx="234.56" cy="64.28" r="2.15" fill="#50284a"/>
<circle cx="236.06" cy="65.07" r="2.15" fill="#50284a"/>
<circle cx="237.57" cy="65.9" r="2.15" fill="#50284a"/>
<circle cx="239.07" cy="66.76" r="2.15" fill="#50284a"/>
<circle cx="240.58" cy="67.66" r="2.15" fill="#50284a"/>
<circle cx="242.09" cy="68.6" r="2.15" fill="#50284a"/>
<circle cx="243.59" cy="69.58" r="2.15" fill="#50284a"/>
<circle cx="245.09" cy="70.59" r="2.15" fill="#50284a"/>
<circle cx="246.6" cy="71.65" r="2.15" fill="#50284a"/>
<circle cx="248.11" cy="72.84" r="2.15" fill="#50284a"/>
<circle cx="249.61" cy="74.01" r="2.15" fill="#50284a"/>
<circle cx="251.12" cy="79.19" r="2.15" fill="#50284a"/>
<circle cx="252.62" cy="76.06" r="2.15" fill="#50284a"/>
<circle cx="187.91" cy="16.81" r="2.15" fill="#f0402a"/>
<circle cx="189.41" cy="18.59" r="2.15" fill="#f0402a"/>
<circle cx="190.91" cy="23.06" r="2.15" fill="#f0402a"/>
<circle cx="192.42" cy="30.21" r="2.15" fill="#f0402a"/>
<circle cx="193.93" cy="35.58" r="2.15" fill="#f0402a"/>
<circle cx="195.43" cy="38.61" r="2.15" fill="#f0402a"/>
<circle cx="196.94" cy="40.88" r="2.15" fill="#f0402a"/>
<circle cx="198.44" cy="42.73" r="2.15" fill="#f0402a"/>
<circle cx="199.94" cy="44.39" r="2.15" fill="#f0402a"/>
<circle cx="201.45" cy="45.87" r="2.15" fill="#f0402a"/>
<circle cx="202.96" cy="47.12" r="2.15" fill="#f0402a"/>
<circle cx="204.46" cy="48.09" r="2.15" fill="#f0402a"/>
<circle cx="205.97" cy="48.85" r="2.15" fill="#f0402a"/>
<circle cx="207.47" cy="49.51" r="2.15" fill="#f0402a"/>
<circle cx="208.97" cy="50.09" r="2.15" fill="#f0402a"/>
<circle cx="210.48" cy="50.6" r="2.15" fill="#f0402a"/>
<circle cx="211.99" cy="51.08" r="2.15" fill="#f0402a"/>
<circle cx="213.49" cy="51.53" r="2.15" fill="#f0402a"/>
<circle cx="215" cy="51.97" r="2.15" fill="#f0402a"/>
<circle cx="216.5" cy="52.42" r="2.15" fill="#f0402a"/>
<circle cx="218" cy="52.84" r="2.15" fill="#f0402a"/>
<circle cx="219.51" cy="53.24" r="2.15" fill="#f0402a"/>
<circle cx="221.01" cy="53.63" r="2.15" fill="#f0402a"/>
<circle cx="222.52" cy="54" r="2.15" fill="#f0402a"/>
<circle cx="224.03" cy="54.36" r="2.15" fill="#f0402a"/>
<circle cx="225.53" cy="54.71" r="2.15" fill="#f0402a"/>
<circle cx="227.03" cy="55.06" r="2.15" fill="#f0402a"/>
<circle cx="228.54" cy="55.41" r="2.15" fill="#f0402a"/>
<circle cx="230.05" cy="55.77" r="2.15" fill="#f0402a"/>
<circle cx="231.55" cy="56.13" r="2.15" fill="#f0402a"/>
<circle cx="233.06" cy="56.49" r="2.15" fill="#f0402a"/>
<circle cx="234.56" cy="56.83" r="2.15" fill="#f0402a"/>
<circle cx="236.06" cy="57.16" r="2.15" fill="#f0402a"/>
<circle cx="237.57" cy="57.48" r="2.15" fill="#f0402a"/>
<circle cx="239.07" cy="57.8" r="2.15" fill="#f0402a"/>
<circle cx="240.58" cy="58.12" r="2.15" fill="#f0402a"/>
<circle cx="242.09" cy="58.45" r="2.15" fill="#f0402a"/>
<circle cx="243.59" cy="58.79" r="2.15" fill="#f0402a"/>
<circle cx="245.09" cy="59.15" r="2.15" fill="#f0402a"/>
<circle cx="246.6" cy="59.53" r="2.15" fill="#f0402a"/>
<circle cx="248.11" cy="59.95" r="2.15" fill="#f0402a"/>
<circle cx="249.61" cy="60.39" r="2.15" fill="#f0402a"/>
<circle cx="251.12" cy="60.88" r="2.15" fill="#f0402a"/>
<circle cx="252.62" cy="61.44" r="2.15" fill="#f0402a"/>
<circle cx="254.12" cy="62.09" r="2.15" fill="#f0402a"/>
<circle cx="255.63" cy="62.79" r="2.15" fill="#f0402a"/>
<circle cx="257.13" cy="63.55" r="2.15" fill="#f0402a"/>
<circle cx="258.64" cy="64.34" r="2.15" fill="#f0402a"/>
<circle cx="260.14" cy="65.15" r="2.15" fill="#f0402a"/>
<circle cx="261.65" cy="65.96" r="2.15" fill="#f0402a"/>
<circle cx="263.15" cy="66.78" r="2.15" fill="#f0402a"/>
<circle cx="264.66" cy="67.64" r="2.15" fill="#f0402a"/>
<circle cx="266.17" cy="68.53" r="2.15" fill="#f0402a"/>
<circle cx="267.67" cy="69.47" r="2.15" fill="#f0402a"/>
<circle cx="269.18" cy="70.46" r="2.15" fill="#f0402a"/>
<circle cx="270.68" cy="71.54" r="2.15" fill="#f0402a"/>
<circle cx="272.19" cy="72.74" r="2.15" fill="#f0402a"/>
<circle cx="273.69" cy="74.01" r="2.15" fill="#f0402a"/>
<circle cx="275.19" cy="79.19" r="2.15" fill="#f0402a"/>
<circle cx="276.7" cy="76.69" r="2.15" fill="#f0402a"/>
<circle cx="187.91" cy="17.61" r="2.15" fill="#fdca22"/>
<circle cx="189.41" cy="20.92" r="2.15" fill="#fdca22"/>
<circle cx="190.91" cy="32" r="2.15" fill="#fdca22"/>
<circle cx="192.42" cy="36.1" r="2.15" fill="#fdca22"/>
<circle cx="193.93" cy="38.7" r="2.15" fill="#fdca22"/>
<circle cx="195.43" cy="40.93" r="2.15" fill="#fdca22"/>
<circle cx="196.94" cy="42.64" r="2.15" fill="#fdca22"/>
<circle cx="198.44" cy="44.02" r="2.15" fill="#fdca22"/>
<circle cx="199.94" cy="45.27" r="2.15" fill="#fdca22"/>
<circle cx="201.45" cy="46.32" r="2.15" fill="#fdca22"/>
<circle cx="202.96" cy="47.13" r="2.15" fill="#fdca22"/>
<circle cx="204.46" cy="47.69" r="2.15" fill="#fdca22"/>
<circle cx="205.97" cy="48.17" r="2.15" fill="#fdca22"/>
<circle cx="207.47" cy="48.6" r="2.15" fill="#fdca22"/>
<circle cx="208.97" cy="48.97" r="2.15" fill="#fdca22"/>
<circle cx="210.48" cy="49.3" r="2.15" fill="#fdca22"/>
<circle cx="211.99" cy="49.6" r="2.15" fill="#fdca22"/>
<circle cx="213.49" cy="49.86" r="2.15" fill="#fdca22"/>
<circle cx="215" cy="50.1" r="2.15" fill="#fdca22"/>
<circle cx="216.5" cy="50.32" r="2.15" fill="#fdca22"/>
<circle cx="218" cy="50.53" r="2.15" fill="#fdca22"/>
<circle cx="219.51" cy="50.71" r="2.15" fill="#fdca22"/>
<circle cx="221.01" cy="50.87" r="2.15" fill="#fdca22"/>
<circle cx="222.52" cy="51.02" r="2.15" fill="#fdca22"/>
<circle cx="224.03" cy="51.16" r="2.15" fill="#fdca22"/>
<circle cx="225.53" cy="51.29" r="2.15" fill="#fdca22"/>
<circle cx="227.03" cy="51.42" r="2.15" fill="#fdca22"/>
<circle cx="228.54" cy="51.54" r="2.15" fill="#fdca22"/>
<circle cx="230.05" cy="51.66" r="2.15" fill="#fdca22"/>
<circle cx="231.55" cy="51.78" r="2.15" fill="#fdca22"/>
<circle cx="233.06" cy="51.91" r="2.15" fill="#fdca22"/>
<circle cx="234.56" cy="52.05" r="2.15" fill="#fdca22"/>
<circle cx="236.06" cy="52.21" r="2.15" fill="#fdca22"/>
<circle cx="237.57" cy="52.37" r="2.15" fill="#fdca22"/>
<circle cx="239.07" cy="52.56" r="2.15" fill="#fdca22"/>
<circle cx="240.58" cy="52.76" r="2.15" fill="#fdca22"/>
<circle cx="242.09" cy="52.97" r="2.15" fill="#fdca22"/>
<circle cx="243.59" cy="53.2" r="2.15" fill="#fdca22"/>
<circle cx="245.09" cy="53.45" r="2.15" fill="#fdca22"/>
<circle cx="246.6" cy="53.7" r="2.15" fill="#fdca22"/>
<circle cx="248.11" cy="53.97" r="2.15" fill="#fdca22"/>
<circle cx="249.61" cy="54.24" r="2.15" fill="#fdca22"/>
<circle cx="251.12" cy="54.53" r="2.15" fill="#fdca22"/>
<circle cx="252.62" cy="54.83" r="2.15" fill="#fdca22"/>
<circle cx="254.12" cy="55.14" r="2.15" fill="#fdca22"/>
<circle cx="255.63" cy="55.46" r="2.15" fill="#fdca22"/>
<circle cx="257.13" cy="55.79" r="2.15" fill="#fdca22"/>
<circle cx="258.64" cy="56.13" r="2.15" fill="#fdca22"/>
<circle cx="260.14" cy="56.48" r="2.15" fill="#fdca22"/>
<circle cx="261.65" cy="56.84" r="2.15" fill="#fdca22"/>
<circle cx="263.15" cy="57.22" r="2.15" fill="#fdca22"/>
<circle cx="264.66" cy="57.62" r="2.15" fill="#fdca22"/>
<circle cx="266.17" cy="58.03" r="2.15" fill="#fdca22"/>
<circle cx="267.67" cy="58.47" r="2.15" fill="#fdca22"/>
<circle cx="269.18" cy="58.93" r="2.15" fill="#fdca22"/>
<circle cx="270.68" cy="59.42" r="2.15" fill="#fdca22"/>
<circle cx="272.19" cy="59.94" r="2.15" fill="#fdca22"/>
<circle cx="273.69" cy="60.49" r="2.15" fill="#fdca22"/>
<circle cx="275.19" cy="61.08" r="2.15" fill="#fdca22"/>
<circle cx="276.7" cy="61.77" r="2.15" fill="#fdca22"/>
<circle cx="278.2" cy="62.53" r="2.15" fill="#fdca22"/>
<circle cx="279.71" cy="63.36" r="2.15" fill="#fdca22"/>
<circle cx="281.22" cy="64.22" r="2.15" fill="#fdca22"/>
<circle cx="282.72" cy="65.1" r="2.15" fill="#fdca22"/>
<circle cx="284.23" cy="65.96" r="2.15" fill="#fdca22"/>
<circle cx="285.73" cy="66.83" r="2.15" fill="#fdca22"/>
<circle cx="287.24" cy="67.72" r="2.15" fill="#fdca22"/>
<circle cx="288.74" cy="68.64" r="2.15" fill="#fdca22"/>
<circle cx="290.25" cy="69.58" r="2.15" fill="#fdca22"/>
<circle cx="291.75" cy="70.55" r="2.15" fill="#fdca22"/>
<circle cx="293.25" cy="71.54" r="2.15" fill="#fdca22"/>
<circle cx="294.76" cy="72.67" r="2.15" fill="#fdca22"/>
<circle cx="296.26" cy="78.03" r="2.15" fill="#fdca22"/>
<circle cx="297.77" cy="75.62" r="2.15" fill="#fdca22"/>
<line x1="381.5" y1="108.1" x2="381.5" y2="196.8" stroke="#8a8a8a" stroke-width="1"/>
<line x1="381" y1="196.3" x2="501.6" y2="196.3" stroke="#8a8a8a" stroke-width="1"/>
<line x1="381.5" y1="174.25" x2="385.7" y2="174.25" stroke="#8a8a8a" stroke-width="1"/>
<line x1="381.5" y1="152.2" x2="385.7" y2="152.2" stroke="#8a8a8a" stroke-width="1"/>
<line x1="381.5" y1="130.15" x2="385.7" y2="130.15" stroke="#8a8a8a" stroke-width="1"/>
<line x1="381.5" y1="108.1" x2="385.7" y2="108.1" stroke="#8a8a8a" stroke-width="1"/>
<line x1="381.5" y1="185.28" x2="383.7" y2="185.28" stroke="#8a8a8a" stroke-width="1"/>
<line x1="381.5" y1="163.23" x2="383.7" y2="163.23" stroke="#8a8a8a" stroke-width="1"/>
<line x1="381.5" y1="141.18" x2="383.7" y2="141.18" stroke="#8a8a8a" stroke-width="1"/>
<line x1="381.5" y1="119.13" x2="383.7" y2="119.13" stroke="#8a8a8a" stroke-width="1"/>
<line x1="411.4" y1="196.3" x2="411.4" y2="192.1" stroke="#8a8a8a" stroke-width="1"/>
<line x1="441.3" y1="196.3" x2="441.3" y2="192.1" stroke="#8a8a8a" stroke-width="1"/>
<line x1="471.2" y1="196.3" x2="471.2" y2="192.1" stroke="#8a8a8a" stroke-width="1"/>
<line x1="501.1" y1="196.3" x2="501.1" y2="192.1" stroke="#8a8a8a" stroke-width="1"/>
<line x1="396.45" y1="196.3" x2="396.45" y2="194.1" stroke="#8a8a8a" stroke-width="1"/>
<line x1="426.35" y1="196.3" x2="426.35" y2="194.1" stroke="#8a8a8a" stroke-width="1"/>
<line x1="456.25" y1="196.3" x2="456.25" y2="194.1" stroke="#8a8a8a" stroke-width="1"/>
<line x1="486.15" y1="196.3" x2="486.15" y2="194.1" stroke="#8a8a8a" stroke-width="1"/>
<text x="362.21" y="200.3" font-size="10.3" textLength="15.28" lengthAdjust="spacingAndGlyphs" fill="#3d3d3d">0.0</text>
<text x="362.2" y="178.25" font-size="10.3" textLength="15.54" lengthAdjust="spacingAndGlyphs" fill="#3d3d3d">0.1</text>
<text x="362.2" y="156.2" font-size="10.3" textLength="15.48" lengthAdjust="spacingAndGlyphs" fill="#3d3d3d">0.2</text>
<text x="362.21" y="134.15" font-size="10.3" textLength="15.28" lengthAdjust="spacingAndGlyphs" fill="#3d3d3d">0.3</text>
<text x="362.22" y="112.1" font-size="10.3" textLength="14.96" lengthAdjust="spacingAndGlyphs" fill="#3d3d3d">0.4</text>
<text x="378.67" y="207.4" font-size="10.3" textLength="5.67" lengthAdjust="spacingAndGlyphs" fill="#3d3d3d">0</text>
<text x="405.71" y="207.4" font-size="10.3" textLength="11.33" lengthAdjust="spacingAndGlyphs" fill="#3d3d3d">20</text>
<text x="435.75" y="207.4" font-size="10.3" textLength="11.33" lengthAdjust="spacingAndGlyphs" fill="#3d3d3d">40</text>
<text x="465.54" y="207.4" font-size="10.3" textLength="11.33" lengthAdjust="spacingAndGlyphs" fill="#3d3d3d">60</text>
<text x="495.44" y="207.4" font-size="10.3" textLength="11.33" lengthAdjust="spacingAndGlyphs" fill="#3d3d3d">80</text>
<text x="410.77" y="178" font-size="10.3" font-style="italic" textLength="7.49" lengthAdjust="spacingAndGlyphs" fill="#3d3d3d">U</text>
<text x="419.8" y="180.3" font-size="15" textLength="4.75" lengthAdjust="spacingAndGlyphs" fill="#303030">/</text>
<text x="424.63" y="178" font-size="10.3" font-style="italic" textLength="11.14" lengthAdjust="spacingAndGlyphs" fill="#3d3d3d">W</text>
<text x="440.65" y="178.8" font-size="10.3" textLength="9.58" lengthAdjust="spacingAndGlyphs" fill="#3d3d3d">=</text>
<text x="453.16" y="178" font-size="10.3" textLength="15.02" lengthAdjust="spacingAndGlyphs" fill="#3d3d3d">3.0</text>
<text x="415.93" y="221.7" font-size="10.3" textLength="42.57" lengthAdjust="spacingAndGlyphs" fill="#3d3d3d">Distance</text>
<text x="462.27" y="221.7" font-size="10.3" font-style="italic" textLength="4.7" lengthAdjust="spacingAndGlyphs" fill="#3d3d3d">ℓ</text>
<g transform="translate(354.3,0) rotate(-90)">
<text x="-199.12" y="0" font-size="10.3" textLength="60.95" lengthAdjust="spacingAndGlyphs" fill="#3d3d3d">String order</text>
<text x="-133.84" y="0" font-size="10.3" font-style="italic" textLength="7.78" lengthAdjust="spacingAndGlyphs" fill="#3d3d3d">O</text>
<text x="-124.38" y="1.7" font-size="7.5" font-style="italic" textLength="3" lengthAdjust="spacingAndGlyphs" fill="#3d3d3d">s</text>
<text x="-119.22" y="0" font-size="10.3" textLength="4.57" lengthAdjust="spacingAndGlyphs" fill="#3d3d3d">(</text>
<text x="-114.76" y="0" font-size="10.3" font-style="italic" textLength="5.45" lengthAdjust="spacingAndGlyphs" fill="#3d3d3d">ℓ</text>
<text x="-108.51" y="0" font-size="10.3" textLength="2.31" lengthAdjust="spacingAndGlyphs" fill="#3d3d3d">)</text>
</g>
<circle cx="384.49" cy="130.73" r="2.1" fill="#41b2e8"/>
<circle cx="385.99" cy="133.42" r="2.1" fill="#41b2e8"/>
<circle cx="387.48" cy="134.77" r="2.1" fill="#41b2e8"/>
<circle cx="388.98" cy="135.52" r="2.1" fill="#41b2e8"/>
<circle cx="390.47" cy="135.98" r="2.1" fill="#41b2e8"/>
<circle cx="391.96" cy="136.3" r="2.1" fill="#41b2e8"/>
<circle cx="393.46" cy="136.54" r="2.1" fill="#41b2e8"/>
<circle cx="394.95" cy="136.74" r="2.1" fill="#41b2e8"/>
<circle cx="396.45" cy="136.91" r="2.1" fill="#41b2e8"/>
<circle cx="397.94" cy="137.06" r="2.1" fill="#41b2e8"/>
<circle cx="399.44" cy="137.2" r="2.1" fill="#41b2e8"/>
<circle cx="400.94" cy="137.33" r="2.1" fill="#41b2e8"/>
<circle cx="402.43" cy="137.46" r="2.1" fill="#41b2e8"/>
<circle cx="403.93" cy="137.6" r="2.1" fill="#41b2e8"/>
<circle cx="405.42" cy="137.74" r="2.1" fill="#41b2e8"/>
<circle cx="406.92" cy="137.9" r="2.1" fill="#41b2e8"/>
<circle cx="408.41" cy="138.08" r="2.1" fill="#41b2e8"/>
<circle cx="409.9" cy="138.28" r="2.1" fill="#41b2e8"/>
<circle cx="411.4" cy="138.53" r="2.1" fill="#41b2e8"/>
<circle cx="412.89" cy="138.82" r="2.1" fill="#41b2e8"/>
<circle cx="414.39" cy="139.17" r="2.1" fill="#41b2e8"/>
<circle cx="415.88" cy="139.6" r="2.1" fill="#41b2e8"/>
<circle cx="417.38" cy="140.13" r="2.1" fill="#41b2e8"/>
<circle cx="418.88" cy="140.78" r="2.1" fill="#41b2e8"/>
<circle cx="420.37" cy="141.58" r="2.1" fill="#41b2e8"/>
<circle cx="421.87" cy="142.56" r="2.1" fill="#41b2e8"/>
<circle cx="423.36" cy="143.78" r="2.1" fill="#41b2e8"/>
<circle cx="424.86" cy="152.2" r="2.1" fill="#41b2e8"/>
<circle cx="426.35" cy="148.01" r="2.1" fill="#41b2e8"/>
<circle cx="384.49" cy="129.05" r="2.1" fill="#50284a"/>
<circle cx="385.99" cy="131.73" r="2.1" fill="#50284a"/>
<circle cx="387.48" cy="133.08" r="2.1" fill="#50284a"/>
<circle cx="388.98" cy="133.82" r="2.1" fill="#50284a"/>
<circle cx="390.47" cy="134.27" r="2.1" fill="#50284a"/>
<circle cx="391.96" cy="134.58" r="2.1" fill="#50284a"/>
<circle cx="393.46" cy="134.81" r="2.1" fill="#50284a"/>
<circle cx="394.95" cy="134.98" r="2.1" fill="#50284a"/>
<circle cx="396.45" cy="135.13" r="2.1" fill="#50284a"/>
<circle cx="397.94" cy="135.25" r="2.1" fill="#50284a"/>
<circle cx="399.44" cy="135.35" r="2.1" fill="#50284a"/>
<circle cx="400.94" cy="135.44" r="2.1" fill="#50284a"/>
<circle cx="402.43" cy="135.51" r="2.1" fill="#50284a"/>
<circle cx="403.93" cy="135.57" r="2.1" fill="#50284a"/>
<circle cx="405.42" cy="135.63" r="2.1" fill="#50284a"/>
<circle cx="406.92" cy="135.68" r="2.1" fill="#50284a"/>
<circle cx="408.41" cy="135.72" r="2.1" fill="#50284a"/>
<circle cx="409.9" cy="135.76" r="2.1" fill="#50284a"/>
<circle cx="411.4" cy="135.8" r="2.1" fill="#50284a"/>
<circle cx="412.89" cy="135.83" r="2.1" fill="#50284a"/>
<circle cx="414.39" cy="135.87" r="2.1" fill="#50284a"/>
<circle cx="415.88" cy="135.9" r="2.1" fill="#50284a"/>
<circle cx="417.38" cy="135.94" r="2.1" fill="#50284a"/>
<circle cx="418.88" cy="135.99" r="2.1" fill="#50284a"/>
<circle cx="420.37" cy="136.03" r="2.1" fill="#50284a"/>
<circle cx="421.87" cy="136.09" r="2.1" fill="#50284a"/>
<circle cx="423.36" cy="136.16" r="2.1" fill="#50284a"/>
<circle cx="424.86" cy="136.24" r="2.1" fill="#50284a"/>
<circle cx="426.35" cy="136.34" r="2.1" fill="#50284a"/>
<circle cx="427.85" cy="136.46" r="2.1" fill="#50284a"/>
<circle cx="429.34" cy="136.6" r="2.1" fill="#50284a"/>
<circle cx="430.83" cy="136.78" r="2.1" fill="#50284a"/>
<circle cx="432.33" cy="137" r="2.1" fill="#50284a"/>
<circle cx="433.82" cy="137.27" r="2.1" fill="#50284a"/>
<circle cx="435.32" cy="137.61" r="2.1" fill="#50284a"/>
<circle cx="436.81" cy="138.03" r="2.1" fill="#50284a"/>
<circle cx="438.31" cy="138.54" r="2.1" fill="#50284a"/>
<circle cx="439.81" cy="139.18" r="2.1" fill="#50284a"/>
<circle cx="441.3" cy="139.97" r="2.1" fill="#50284a"/>
<circle cx="442.8" cy="140.95" r="2.1" fill="#50284a"/>
<circle cx="444.29" cy="142.16" r="2.1" fill="#50284a"/>
<circle cx="445.79" cy="152.2" r="2.1" fill="#50284a"/>
<circle cx="447.28" cy="148.01" r="2.1" fill="#50284a"/>
<circle cx="384.49" cy="128.87" r="2.1" fill="#f0402a"/>
<circle cx="385.99" cy="131.56" r="2.1" fill="#f0402a"/>
<circle cx="387.48" cy="132.9" r="2.1" fill="#f0402a"/>
<circle cx="388.98" cy="133.64" r="2.1" fill="#f0402a"/>
<circle cx="390.47" cy="134.09" r="2.1" fill="#f0402a"/>
<circle cx="391.96" cy="134.4" r="2.1" fill="#f0402a"/>
<circle cx="393.46" cy="134.63" r="2.1" fill="#f0402a"/>
<circle cx="394.95" cy="134.8" r="2.1" fill="#f0402a"/>
<circle cx="396.45" cy="134.95" r="2.1" fill="#f0402a"/>
<circle cx="397.94" cy="135.07" r="2.1" fill="#f0402a"/>
<circle cx="399.44" cy="135.16" r="2.1" fill="#f0402a"/>
<circle cx="400.94" cy="135.25" r="2.1" fill="#f0402a"/>
<circle cx="402.43" cy="135.32" r="2.1" fill="#f0402a"/>
<circle cx="403.93" cy="135.38" r="2.1" fill="#f0402a"/>
<circle cx="405.42" cy="135.43" r="2.1" fill="#f0402a"/>
<circle cx="406.92" cy="135.47" r="2.1" fill="#f0402a"/>
<circle cx="408.41" cy="135.51" r="2.1" fill="#f0402a"/>
<circle cx="409.9" cy="135.54" r="2.1" fill="#f0402a"/>
<circle cx="411.4" cy="135.57" r="2.1" fill="#f0402a"/>
<circle cx="412.89" cy="135.59" r="2.1" fill="#f0402a"/>
<circle cx="414.39" cy="135.61" r="2.1" fill="#f0402a"/>
<circle cx="415.88" cy="135.62" r="2.1" fill="#f0402a"/>
<circle cx="417.38" cy="135.64" r="2.1" fill="#f0402a"/>
<circle cx="418.88" cy="135.65" r="2.1" fill="#f0402a"/>
<circle cx="420.37" cy="135.66" r="2.1" fill="#f0402a"/>
<circle cx="421.87" cy="135.67" r="2.1" fill="#f0402a"/>
<circle cx="423.36" cy="135.68" r="2.1" fill="#f0402a"/>
<circle cx="424.86" cy="135.69" r="2.1" fill="#f0402a"/>
<circle cx="426.35" cy="135.7" r="2.1" fill="#f0402a"/>
<circle cx="427.85" cy="135.7" r="2.1" fill="#f0402a"/>
<circle cx="429.34" cy="135.71" r="2.1" fill="#f0402a"/>
<circle cx="430.83" cy="135.72" r="2.1" fill="#f0402a"/>
<circle cx="432.33" cy="135.73" r="2.1" fill="#f0402a"/>
<circle cx="433.82" cy="135.74" r="2.1" fill="#f0402a"/>
<circle cx="435.32" cy="135.75" r="2.1" fill="#f0402a"/>
<circle cx="436.81" cy="135.77" r="2.1" fill="#f0402a"/>
<circle cx="438.31" cy="135.79" r="2.1" fill="#f0402a"/>
<circle cx="439.81" cy="135.81" r="2.1" fill="#f0402a"/>
<circle cx="441.3" cy="135.83" r="2.1" fill="#f0402a"/>
<circle cx="442.8" cy="135.87" r="2.1" fill="#f0402a"/>
<circle cx="444.29" cy="135.91" r="2.1" fill="#f0402a"/>
<circle cx="445.79" cy="135.96" r="2.1" fill="#f0402a"/>
<circle cx="447.28" cy="136.02" r="2.1" fill="#f0402a"/>
<circle cx="448.77" cy="136.09" r="2.1" fill="#f0402a"/>
<circle cx="450.27" cy="136.19" r="2.1" fill="#f0402a"/>
<circle cx="451.76" cy="136.3" r="2.1" fill="#f0402a"/>
<circle cx="453.26" cy="136.44" r="2.1" fill="#f0402a"/>
<circle cx="454.75" cy="136.62" r="2.1" fill="#f0402a"/>
<circle cx="456.25" cy="136.84" r="2.1" fill="#f0402a"/>
<circle cx="457.75" cy="137.11" r="2.1" fill="#f0402a"/>
<circle cx="459.24" cy="137.44" r="2.1" fill="#f0402a"/>
<circle cx="460.74" cy="137.86" r="2.1" fill="#f0402a"/>
<circle cx="462.23" cy="138.37" r="2.1" fill="#f0402a"/>
<circle cx="463.73" cy="139.01" r="2.1" fill="#f0402a"/>
<circle cx="465.22" cy="139.8" r="2.1" fill="#f0402a"/>
<circle cx="466.72" cy="140.78" r="2.1" fill="#f0402a"/>
<circle cx="468.21" cy="141.99" r="2.1" fill="#f0402a"/>
<circle cx="469.71" cy="152.2" r="2.1" fill="#f0402a"/>
<circle cx="471.2" cy="148.01" r="2.1" fill="#f0402a"/>
<circle cx="384.49" cy="128.76" r="2.1" fill="#fdca22"/>
<circle cx="385.99" cy="131.44" r="2.1" fill="#fdca22"/>
<circle cx="387.48" cy="132.79" r="2.1" fill="#fdca22"/>
<circle cx="388.98" cy="133.53" r="2.1" fill="#fdca22"/>
<circle cx="390.47" cy="133.98" r="2.1" fill="#fdca22"/>
<circle cx="391.96" cy="134.29" r="2.1" fill="#fdca22"/>
<circle cx="393.46" cy="134.52" r="2.1" fill="#fdca22"/>
<circle cx="394.95" cy="134.69" r="2.1" fill="#fdca22"/>
<circle cx="396.45" cy="134.84" r="2.1" fill="#fdca22"/>
<circle cx="397.94" cy="134.95" r="2.1" fill="#fdca22"/>
<circle cx="399.44" cy="135.05" r="2.1" fill="#fdca22"/>
<circle cx="400.94" cy="135.14" r="2.1" fill="#fdca22"/>
<circle cx="402.43" cy="135.21" r="2.1" fill="#fdca22"/>
<circle cx="403.93" cy="135.27" r="2.1" fill="#fdca22"/>
<circle cx="405.42" cy="135.32" r="2.1" fill="#fdca22"/>
<circle cx="406.92" cy="135.36" r="2.1" fill="#fdca22"/>
<circle cx="408.41" cy="135.4" r="2.1" fill="#fdca22"/>
<circle cx="409.9" cy="135.43" r="2.1" fill="#fdca22"/>
<circle cx="411.4" cy="135.45" r="2.1" fill="#fdca22"/>
<circle cx="412.89" cy="135.48" r="2.1" fill="#fdca22"/>
<circle cx="414.39" cy="135.49" r="2.1" fill="#fdca22"/>
<circle cx="415.88" cy="135.51" r="2.1" fill="#fdca22"/>
<circle cx="417.38" cy="135.52" r="2.1" fill="#fdca22"/>
<circle cx="418.88" cy="135.53" r="2.1" fill="#fdca22"/>
<circle cx="420.37" cy="135.54" r="2.1" fill="#fdca22"/>
<circle cx="421.87" cy="135.55" r="2.1" fill="#fdca22"/>
<circle cx="423.36" cy="135.56" r="2.1" fill="#fdca22"/>
<circle cx="424.86" cy="135.57" r="2.1" fill="#fdca22"/>
<circle cx="426.35" cy="135.57" r="2.1" fill="#fdca22"/>
<circle cx="427.85" cy="135.57" r="2.1" fill="#fdca22"/>
<circle cx="429.34" cy="135.58" r="2.1" fill="#fdca22"/>
<circle cx="430.83" cy="135.58" r="2.1" fill="#fdca22"/>
<circle cx="432.33" cy="135.58" r="2.1" fill="#fdca22"/>
<circle cx="433.82" cy="135.59" r="2.1" fill="#fdca22"/>
<circle cx="435.32" cy="135.59" r="2.1" fill="#fdca22"/>
<circle cx="436.81" cy="135.59" r="2.1" fill="#fdca22"/>
<circle cx="438.31" cy="135.59" r="2.1" fill="#fdca22"/>
<circle cx="439.81" cy="135.6" r="2.1" fill="#fdca22"/>
<circle cx="441.3" cy="135.6" r="2.1" fill="#fdca22"/>
<circle cx="442.8" cy="135.6" r="2.1" fill="#fdca22"/>
<circle cx="444.29" cy="135.6" r="2.1" fill="#fdca22"/>
<circle cx="445.79" cy="135.61" r="2.1" fill="#fdca22"/>
<circle cx="447.28" cy="135.61" r="2.1" fill="#fdca22"/>
<circle cx="448.77" cy="135.61" r="2.1" fill="#fdca22"/>
<circle cx="450.27" cy="135.62" r="2.1" fill="#fdca22"/>
<circle cx="451.76" cy="135.62" r="2.1" fill="#fdca22"/>
<circle cx="453.26" cy="135.63" r="2.1" fill="#fdca22"/>
<circle cx="454.75" cy="135.64" r="2.1" fill="#fdca22"/>
<circle cx="456.25" cy="135.65" r="2.1" fill="#fdca22"/>
<circle cx="457.75" cy="135.67" r="2.1" fill="#fdca22"/>
<circle cx="459.24" cy="135.68" r="2.1" fill="#fdca22"/>
<circle cx="460.74" cy="135.7" r="2.1" fill="#fdca22"/>
<circle cx="462.23" cy="135.73" r="2.1" fill="#fdca22"/>
<circle cx="463.73" cy="135.76" r="2.1" fill="#fdca22"/>
<circle cx="465.22" cy="135.8" r="2.1" fill="#fdca22"/>
<circle cx="466.72" cy="135.85" r="2.1" fill="#fdca22"/>
<circle cx="468.21" cy="135.91" r="2.1" fill="#fdca22"/>
<circle cx="469.71" cy="135.98" r="2.1" fill="#fdca22"/>
<circle cx="471.2" cy="136.08" r="2.1" fill="#fdca22"/>
<circle cx="472.69" cy="136.19" r="2.1" fill="#fdca22"/>
<circle cx="474.19" cy="136.33" r="2.1" fill="#fdca22"/>
<circle cx="475.69" cy="136.51" r="2.1" fill="#fdca22"/>
<circle cx="477.18" cy="136.73" r="2.1" fill="#fdca22"/>
<circle cx="478.68" cy="137" r="2.1" fill="#fdca22"/>
<circle cx="480.17" cy="137.33" r="2.1" fill="#fdca22"/>
<circle cx="481.67" cy="137.75" r="2.1" fill="#fdca22"/>
<circle cx="483.16" cy="138.26" r="2.1" fill="#fdca22"/>
<circle cx="484.65" cy="138.9" r="2.1" fill="#fdca22"/>
<circle cx="486.15" cy="139.69" r="2.1" fill="#fdca22"/>
<circle cx="487.64" cy="140.67" r="2.1" fill="#fdca22"/>
<circle cx="489.14" cy="141.88" r="2.1" fill="#fdca22"/>
<circle cx="490.63" cy="152.2" r="2.1" fill="#fdca22"/>
<circle cx="492.13" cy="148.01" r="2.1" fill="#fdca22"/>
<line x1="552.6" y1="94.5" x2="552.6" y2="183.8" stroke="#8a8a8a" stroke-width="1"/>
<line x1="552.1" y1="183.3" x2="672.4" y2="183.3" stroke="#8a8a8a" stroke-width="1"/>
<line x1="552.6" y1="161.1" x2="556.8" y2="161.1" stroke="#8a8a8a" stroke-width="1"/>
<line x1="552.6" y1="138.9" x2="556.8" y2="138.9" stroke="#8a8a8a" stroke-width="1"/>
<line x1="552.6" y1="116.7" x2="556.8" y2="116.7" stroke="#8a8a8a" stroke-width="1"/>
<line x1="552.6" y1="94.5" x2="556.8" y2="94.5" stroke="#8a8a8a" stroke-width="1"/>
<line x1="552.6" y1="172.2" x2="554.8" y2="172.2" stroke="#8a8a8a" stroke-width="1"/>
<line x1="552.6" y1="150" x2="554.8" y2="150" stroke="#8a8a8a" stroke-width="1"/>
<line x1="552.6" y1="127.8" x2="554.8" y2="127.8" stroke="#8a8a8a" stroke-width="1"/>
<line x1="552.6" y1="105.6" x2="554.8" y2="105.6" stroke="#8a8a8a" stroke-width="1"/>
<line x1="582.55" y1="183.3" x2="582.55" y2="179.1" stroke="#8a8a8a" stroke-width="1"/>
<line x1="612.5" y1="183.3" x2="612.5" y2="179.1" stroke="#8a8a8a" stroke-width="1"/>
<line x1="642.45" y1="183.3" x2="642.45" y2="179.1" stroke="#8a8a8a" stroke-width="1"/>
<line x1="672.4" y1="183.3" x2="672.4" y2="179.1" stroke="#8a8a8a" stroke-width="1"/>
<line x1="567.58" y1="183.3" x2="567.58" y2="181.1" stroke="#8a8a8a" stroke-width="1"/>
<line x1="597.52" y1="183.3" x2="597.52" y2="181.1" stroke="#8a8a8a" stroke-width="1"/>
<line x1="627.48" y1="183.3" x2="627.48" y2="181.1" stroke="#8a8a8a" stroke-width="1"/>
<line x1="657.43" y1="183.3" x2="657.43" y2="181.1" stroke="#8a8a8a" stroke-width="1"/>
<text x="533.31" y="187.3" font-size="10.3" textLength="15.28" lengthAdjust="spacingAndGlyphs" fill="#3d3d3d">0.0</text>
<text x="533.3" y="165.1" font-size="10.3" textLength="15.54" lengthAdjust="spacingAndGlyphs" fill="#3d3d3d">0.1</text>
<text x="533.3" y="142.9" font-size="10.3" textLength="15.48" lengthAdjust="spacingAndGlyphs" fill="#3d3d3d">0.2</text>
<text x="533.31" y="120.7" font-size="10.3" textLength="15.28" lengthAdjust="spacingAndGlyphs" fill="#3d3d3d">0.3</text>
<text x="533.32" y="98.5" font-size="10.3" textLength="14.96" lengthAdjust="spacingAndGlyphs" fill="#3d3d3d">0.4</text>
<text x="549.77" y="194" font-size="10.3" textLength="5.66" lengthAdjust="spacingAndGlyphs" fill="#3d3d3d">0</text>
<text x="576.86" y="194" font-size="10.3" textLength="11.33" lengthAdjust="spacingAndGlyphs" fill="#3d3d3d">20</text>
<text x="606.95" y="194" font-size="10.3" textLength="11.33" lengthAdjust="spacingAndGlyphs" fill="#3d3d3d">40</text>
<text x="636.78" y="194" font-size="10.3" textLength="11.33" lengthAdjust="spacingAndGlyphs" fill="#3d3d3d">60</text>
<text x="666.74" y="194" font-size="10.3" textLength="11.33" lengthAdjust="spacingAndGlyphs" fill="#3d3d3d">80</text>
<text x="582.17" y="164.8" font-size="10.3" font-style="italic" textLength="7.49" lengthAdjust="spacingAndGlyphs" fill="#3d3d3d">U</text>
<text x="591.2" y="167.1" font-size="15" textLength="4.75" lengthAdjust="spacingAndGlyphs" fill="#303030">/</text>
<text x="596.03" y="164.8" font-size="10.3" font-style="italic" textLength="11.14" lengthAdjust="spacingAndGlyphs" fill="#3d3d3d">W</text>
<text x="612.05" y="165.6" font-size="10.3" textLength="9.58" lengthAdjust="spacingAndGlyphs" fill="#3d3d3d">=</text>
<text x="624.62" y="164.8" font-size="10.3" textLength="14.96" lengthAdjust="spacingAndGlyphs" fill="#3d3d3d">8.0</text>
<text x="587.23" y="208.7" font-size="10.3" textLength="42.57" lengthAdjust="spacingAndGlyphs" fill="#3d3d3d">Distance</text>
<text x="633.57" y="208.7" font-size="10.3" font-style="italic" textLength="4.7" lengthAdjust="spacingAndGlyphs" fill="#3d3d3d">ℓ</text>
<g transform="translate(525.6,0) rotate(-90)">
<text x="-186.62" y="0" font-size="10.3" textLength="60.95" lengthAdjust="spacingAndGlyphs" fill="#3d3d3d">String order</text>
<text x="-121.34" y="0" font-size="10.3" font-style="italic" textLength="7.78" lengthAdjust="spacingAndGlyphs" fill="#3d3d3d">O</text>
<text x="-111.88" y="1.7" font-size="7.5" font-style="italic" textLength="3" lengthAdjust="spacingAndGlyphs" fill="#3d3d3d">s</text>
<text x="-106.72" y="0" font-size="10.3" textLength="4.57" lengthAdjust="spacingAndGlyphs" fill="#3d3d3d">(</text>
<text x="-102.26" y="0" font-size="10.3" font-style="italic" textLength="5.45" lengthAdjust="spacingAndGlyphs" fill="#3d3d3d">ℓ</text>
<text x="-96.01" y="0" font-size="10.3" textLength="2.31" lengthAdjust="spacingAndGlyphs" fill="#3d3d3d">)</text>
</g>
<circle cx="555.6" cy="99.16" r="2.1" fill="#41b2e8"/>
<circle cx="557.09" cy="101.26" r="2.1" fill="#41b2e8"/>
<circle cx="558.59" cy="102.32" r="2.1" fill="#41b2e8"/>
<circle cx="560.09" cy="102.89" r="2.1" fill="#41b2e8"/>
<circle cx="561.59" cy="103.25" r="2.1" fill="#41b2e8"/>
<circle cx="563.08" cy="103.49" r="2.1" fill="#41b2e8"/>
<circle cx="564.58" cy="103.67" r="2.1" fill="#41b2e8"/>
<circle cx="566.08" cy="103.81" r="2.1" fill="#41b2e8"/>
<circle cx="567.58" cy="103.93" r="2.1" fill="#41b2e8"/>
<circle cx="569.07" cy="104.03" r="2.1" fill="#41b2e8"/>
<circle cx="570.57" cy="104.12" r="2.1" fill="#41b2e8"/>
<circle cx="572.07" cy="104.2" r="2.1" fill="#41b2e8"/>
<circle cx="573.57" cy="104.28" r="2.1" fill="#41b2e8"/>
<circle cx="575.06" cy="104.36" r="2.1" fill="#41b2e8"/>
<circle cx="576.56" cy="104.44" r="2.1" fill="#41b2e8"/>
<circle cx="578.06" cy="104.53" r="2.1" fill="#41b2e8"/>
<circle cx="579.56" cy="104.63" r="2.1" fill="#41b2e8"/>
<circle cx="581.05" cy="104.76" r="2.1" fill="#41b2e8"/>
<circle cx="582.55" cy="104.92" r="2.1" fill="#41b2e8"/>
<circle cx="584.05" cy="105.13" r="2.1" fill="#41b2e8"/>
<circle cx="585.55" cy="105.4" r="2.1" fill="#41b2e8"/>
<circle cx="587.04" cy="105.75" r="2.1" fill="#41b2e8"/>
<circle cx="588.54" cy="106.23" r="2.1" fill="#41b2e8"/>
<circle cx="590.04" cy="106.87" r="2.1" fill="#41b2e8"/>
<circle cx="591.54" cy="107.72" r="2.1" fill="#41b2e8"/>
<circle cx="593.03" cy="108.87" r="2.1" fill="#41b2e8"/>
<circle cx="594.53" cy="110.43" r="2.1" fill="#41b2e8"/>
<circle cx="596.03" cy="118.25" r="2.1" fill="#41b2e8"/>
<circle cx="597.52" cy="114.79" r="2.1" fill="#41b2e8"/>
<circle cx="555.6" cy="98.27" r="2.1" fill="#50284a"/>
<circle cx="557.09" cy="100.37" r="2.1" fill="#50284a"/>
<circle cx="558.59" cy="101.42" r="2.1" fill="#50284a"/>
<circle cx="560.09" cy="102" r="2.1" fill="#50284a"/>
<circle cx="561.59" cy="102.35" r="2.1" fill="#50284a"/>
<circle cx="563.08" cy="102.59" r="2.1" fill="#50284a"/>
<circle cx="564.58" cy="102.76" r="2.1" fill="#50284a"/>
<circle cx="566.08" cy="102.9" r="2.1" fill="#50284a"/>
<circle cx="567.58" cy="103.01" r="2.1" fill="#50284a"/>
<circle cx="569.07" cy="103.11" r="2.1" fill="#50284a"/>
<circle cx="570.57" cy="103.18" r="2.1" fill="#50284a"/>
<circle cx="572.07" cy="103.25" r="2.1" fill="#50284a"/>
<circle cx="573.57" cy="103.3" r="2.1" fill="#50284a"/>
<circle cx="575.06" cy="103.35" r="2.1" fill="#50284a"/>
<circle cx="576.56" cy="103.39" r="2.1" fill="#50284a"/>
<circle cx="578.06" cy="103.42" r="2.1" fill="#50284a"/>
<circle cx="579.56" cy="103.45" r="2.1" fill="#50284a"/>
<circle cx="581.05" cy="103.48" r="2.1" fill="#50284a"/>
<circle cx="582.55" cy="103.5" r="2.1" fill="#50284a"/>
<circle cx="584.05" cy="103.52" r="2.1" fill="#50284a"/>
<circle cx="585.55" cy="103.54" r="2.1" fill="#50284a"/>
<circle cx="587.04" cy="103.55" r="2.1" fill="#50284a"/>
<circle cx="588.54" cy="103.57" r="2.1" fill="#50284a"/>
<circle cx="590.04" cy="103.59" r="2.1" fill="#50284a"/>
<circle cx="591.54" cy="103.61" r="2.1" fill="#50284a"/>
<circle cx="593.03" cy="103.63" r="2.1" fill="#50284a"/>
<circle cx="594.53" cy="103.66" r="2.1" fill="#50284a"/>
<circle cx="596.03" cy="103.7" r="2.1" fill="#50284a"/>
<circle cx="597.52" cy="103.74" r="2.1" fill="#50284a"/>
<circle cx="599.02" cy="103.8" r="2.1" fill="#50284a"/>
<circle cx="600.52" cy="103.88" r="2.1" fill="#50284a"/>
<circle cx="602.02" cy="103.99" r="2.1" fill="#50284a"/>
<circle cx="603.51" cy="104.13" r="2.1" fill="#50284a"/>
<circle cx="605.01" cy="104.32" r="2.1" fill="#50284a"/>
<circle cx="606.51" cy="104.58" r="2.1" fill="#50284a"/>
<circle cx="608.01" cy="104.92" r="2.1" fill="#50284a"/>
<circle cx="609.5" cy="105.39" r="2.1" fill="#50284a"/>
<circle cx="611" cy="106.02" r="2.1" fill="#50284a"/>
<circle cx="612.5" cy="106.87" r="2.1" fill="#50284a"/>
<circle cx="614" cy="108.02" r="2.1" fill="#50284a"/>
<circle cx="615.5" cy="109.57" r="2.1" fill="#50284a"/>
<circle cx="616.99" cy="118.25" r="2.1" fill="#50284a"/>
<circle cx="618.49" cy="114.79" r="2.1" fill="#50284a"/>
<circle cx="555.6" cy="98.16" r="2.1" fill="#f0402a"/>
<circle cx="557.09" cy="100.26" r="2.1" fill="#f0402a"/>
<circle cx="558.59" cy="101.31" r="2.1" fill="#f0402a"/>
<circle cx="560.09" cy="101.89" r="2.1" fill="#f0402a"/>
<circle cx="561.59" cy="102.24" r="2.1" fill="#f0402a"/>
<circle cx="563.08" cy="102.48" r="2.1" fill="#f0402a"/>
<circle cx="564.58" cy="102.65" r="2.1" fill="#f0402a"/>
<circle cx="566.08" cy="102.79" r="2.1" fill="#f0402a"/>
<circle cx="567.58" cy="102.9" r="2.1" fill="#f0402a"/>
<circle cx="569.07" cy="102.99" r="2.1" fill="#f0402a"/>
<circle cx="570.57" cy="103.07" r="2.1" fill="#f0402a"/>
<circle cx="572.07" cy="103.14" r="2.1" fill="#f0402a"/>
<circle cx="573.57" cy="103.19" r="2.1" fill="#f0402a"/>
<circle cx="575.06" cy="103.24" r="2.1" fill="#f0402a"/>
<circle cx="576.56" cy="103.28" r="2.1" fill="#f0402a"/>
<circle cx="578.06" cy="103.31" r="2.1" fill="#f0402a"/>
<circle cx="579.56" cy="103.34" r="2.1" fill="#f0402a"/>
<circle cx="581.05" cy="103.36" r="2.1" fill="#f0402a"/>
<circle cx="582.55" cy="103.38" r="2.1" fill="#f0402a"/>
<circle cx="584.05" cy="103.4" r="2.1" fill="#f0402a"/>
<circle cx="585.55" cy="103.41" r="2.1" fill="#f0402a"/>
<circle cx="587.04" cy="103.42" r="2.1" fill="#f0402a"/>
<circle cx="588.54" cy="103.43" r="2.1" fill="#f0402a"/>
<circle cx="590.04" cy="103.44" r="2.1" fill="#f0402a"/>
<circle cx="591.54" cy="103.45" r="2.1" fill="#f0402a"/>
<circle cx="593.03" cy="103.46" r="2.1" fill="#f0402a"/>
<circle cx="594.53" cy="103.46" r="2.1" fill="#f0402a"/>
<circle cx="596.03" cy="103.47" r="2.1" fill="#f0402a"/>
<circle cx="597.52" cy="103.47" r="2.1" fill="#f0402a"/>
<circle cx="599.02" cy="103.48" r="2.1" fill="#f0402a"/>
<circle cx="600.52" cy="103.48" r="2.1" fill="#f0402a"/>
<circle cx="602.02" cy="103.48" r="2.1" fill="#f0402a"/>
<circle cx="603.51" cy="103.48" r="2.1" fill="#f0402a"/>
<circle cx="605.01" cy="103.49" r="2.1" fill="#f0402a"/>
<circle cx="606.51" cy="103.49" r="2.1" fill="#f0402a"/>
<circle cx="608.01" cy="103.5" r="2.1" fill="#f0402a"/>
<circle cx="609.5" cy="103.5" r="2.1" fill="#f0402a"/>
<circle cx="611" cy="103.51" r="2.1" fill="#f0402a"/>
<circle cx="612.5" cy="103.51" r="2.1" fill="#f0402a"/>
<circle cx="614" cy="103.52" r="2.1" fill="#f0402a"/>
<circle cx="615.5" cy="103.54" r="2.1" fill="#f0402a"/>
<circle cx="616.99" cy="103.55" r="2.1" fill="#f0402a"/>
<circle cx="618.49" cy="103.58" r="2.1" fill="#f0402a"/>
<circle cx="619.99" cy="103.61" r="2.1" fill="#f0402a"/>
<circle cx="621.49" cy="103.65" r="2.1" fill="#f0402a"/>
<circle cx="622.98" cy="103.71" r="2.1" fill="#f0402a"/>
<circle cx="624.48" cy="103.79" r="2.1" fill="#f0402a"/>
<circle cx="625.98" cy="103.89" r="2.1" fill="#f0402a"/>
<circle cx="627.48" cy="104.03" r="2.1" fill="#f0402a"/>
<circle cx="628.97" cy="104.22" r="2.1" fill="#f0402a"/>
<circle cx="630.47" cy="104.47" r="2.1" fill="#f0402a"/>
<circle cx="631.97" cy="104.82" r="2.1" fill="#f0402a"/>
<circle cx="633.47" cy="105.29" r="2.1" fill="#f0402a"/>
<circle cx="634.96" cy="105.91" r="2.1" fill="#f0402a"/>
<circle cx="636.46" cy="106.76" r="2.1" fill="#f0402a"/>
<circle cx="637.96" cy="107.91" r="2.1" fill="#f0402a"/>
<circle cx="639.46" cy="109.46" r="2.1" fill="#f0402a"/>
<circle cx="640.95" cy="118.25" r="2.1" fill="#f0402a"/>
<circle cx="642.45" cy="114.79" r="2.1" fill="#f0402a"/>
<circle cx="555.6" cy="98.05" r="2.1" fill="#fdca22"/>
<circle cx="557.09" cy="100.15" r="2.1" fill="#fdca22"/>
<circle cx="558.59" cy="101.2" r="2.1" fill="#fdca22"/>
<circle cx="560.09" cy="101.78" r="2.1" fill="#fdca22"/>
<circle cx="561.59" cy="102.13" r="2.1" fill="#fdca22"/>
<circle cx="563.08" cy="102.37" r="2.1" fill="#fdca22"/>
<circle cx="564.58" cy="102.54" r="2.1" fill="#fdca22"/>
<circle cx="566.08" cy="102.68" r="2.1" fill="#fdca22"/>
<circle cx="567.58" cy="102.79" r="2.1" fill="#fdca22"/>
<circle cx="569.07" cy="102.88" r="2.1" fill="#fdca22"/>
<circle cx="570.57" cy="102.96" r="2.1" fill="#fdca22"/>
<circle cx="572.07" cy="103.02" r="2.1" fill="#fdca22"/>
<circle cx="573.57" cy="103.08" r="2.1" fill="#fdca22"/>
<circle cx="575.06" cy="103.13" r="2.1" fill="#fdca22"/>
<circle cx="576.56" cy="103.16" r="2.1" fill="#fdca22"/>
<circle cx="578.06" cy="103.2" r="2.1" fill="#fdca22"/>
<circle cx="579.56" cy="103.23" r="2.1" fill="#fdca22"/>
<circle cx="581.05" cy="103.25" r="2.1" fill="#fdca22"/>
<circle cx="582.55" cy="103.27" r="2.1" fill="#fdca22"/>
<circle cx="584.05" cy="103.29" r="2.1" fill="#fdca22"/>
<circle cx="585.55" cy="103.3" r="2.1" fill="#fdca22"/>
<circle cx="587.04" cy="103.31" r="2.1" fill="#fdca22"/>
<circle cx="588.54" cy="103.32" r="2.1" fill="#fdca22"/>
<circle cx="590.04" cy="103.33" r="2.1" fill="#fdca22"/>
<circle cx="591.54" cy="103.34" r="2.1" fill="#fdca22"/>
<circle cx="593.03" cy="103.35" r="2.1" fill="#fdca22"/>
<circle cx="594.53" cy="103.35" r="2.1" fill="#fdca22"/>
<circle cx="596.03" cy="103.36" r="2.1" fill="#fdca22"/>
<circle cx="597.52" cy="103.36" r="2.1" fill="#fdca22"/>
<circle cx="599.02" cy="103.36" r="2.1" fill="#fdca22"/>
<circle cx="600.52" cy="103.37" r="2.1" fill="#fdca22"/>
<circle cx="602.02" cy="103.37" r="2.1" fill="#fdca22"/>
<circle cx="603.51" cy="103.37" r="2.1" fill="#fdca22"/>
<circle cx="605.01" cy="103.37" r="2.1" fill="#fdca22"/>
<circle cx="606.51" cy="103.37" r="2.1" fill="#fdca22"/>
<circle cx="608.01" cy="103.37" r="2.1" fill="#fdca22"/>
<circle cx="609.5" cy="103.37" r="2.1" fill="#fdca22"/>
<circle cx="611" cy="103.38" r="2.1" fill="#fdca22"/>
<circle cx="612.5" cy="103.38" r="2.1" fill="#fdca22"/>
<circle cx="614" cy="103.38" r="2.1" fill="#fdca22"/>
<circle cx="615.5" cy="103.38" r="2.1" fill="#fdca22"/>
<circle cx="616.99" cy="103.38" r="2.1" fill="#fdca22"/>
<circle cx="618.49" cy="103.38" r="2.1" fill="#fdca22"/>
<circle cx="619.99" cy="103.38" r="2.1" fill="#fdca22"/>
<circle cx="621.49" cy="103.38" r="2.1" fill="#fdca22"/>
<circle cx="622.98" cy="103.38" r="2.1" fill="#fdca22"/>
<circle cx="624.48" cy="103.38" r="2.1" fill="#fdca22"/>
<circle cx="625.98" cy="103.39" r="2.1" fill="#fdca22"/>
<circle cx="627.48" cy="103.39" r="2.1" fill="#fdca22"/>
<circle cx="628.97" cy="103.39" r="2.1" fill="#fdca22"/>
<circle cx="630.47" cy="103.39" r="2.1" fill="#fdca22"/>
<circle cx="631.97" cy="103.4" r="2.1" fill="#fdca22"/>
<circle cx="633.47" cy="103.41" r="2.1" fill="#fdca22"/>
<circle cx="634.96" cy="103.42" r="2.1" fill="#fdca22"/>
<circle cx="636.46" cy="103.43" r="2.1" fill="#fdca22"/>
<circle cx="637.96" cy="103.45" r="2.1" fill="#fdca22"/>
<circle cx="639.46" cy="103.47" r="2.1" fill="#fdca22"/>
<circle cx="640.95" cy="103.5" r="2.1" fill="#fdca22"/>
<circle cx="642.45" cy="103.54" r="2.1" fill="#fdca22"/>
<circle cx="643.95" cy="103.6" r="2.1" fill="#fdca22"/>
<circle cx="645.45" cy="103.68" r="2.1" fill="#fdca22"/>
<circle cx="646.94" cy="103.78" r="2.1" fill="#fdca22"/>
<circle cx="648.44" cy="103.92" r="2.1" fill="#fdca22"/>
<circle cx="649.94" cy="104.11" r="2.1" fill="#fdca22"/>
<circle cx="651.44" cy="104.36" r="2.1" fill="#fdca22"/>
<circle cx="652.93" cy="104.71" r="2.1" fill="#fdca22"/>
<circle cx="654.43" cy="105.17" r="2.1" fill="#fdca22"/>
<circle cx="655.93" cy="105.8" r="2.1" fill="#fdca22"/>
<circle cx="657.43" cy="106.65" r="2.1" fill="#fdca22"/>
<circle cx="658.92" cy="107.8" r="2.1" fill="#fdca22"/>
<circle cx="660.42" cy="109.35" r="2.1" fill="#fdca22"/>
<circle cx="661.92" cy="118.25" r="2.1" fill="#fdca22"/>
<circle cx="663.41" cy="114.79" r="2.1" fill="#fdca22"/>
<polyline points="555.6,94.06 555.96,95.08 556.33,95.93 556.69,96.64 557.06,97.22 557.42,97.71 557.79,98.11 558.15,98.44 558.52,98.72 558.89,98.94 559.25,99.13 559.62,99.29 559.98,99.42 560.35,99.53 560.71,99.62 561.08,99.69 561.44,99.75 561.81,99.8 562.18,99.85 562.54,99.88 562.91,99.91 563.27,99.93 563.64,99.95 564,99.97 564.37,99.98 564.74,100 565.1,100 565.47,100.01 565.83,100.02 566.2,100.02 566.56,100.03 566.93,100.03 567.29,100.04 567.66,100.04 568.03,100.04 568.39,100.04 568.76,100.04 569.12,100.04 569.49,100.05 569.85,100.05 570.22,100.05 570.59,100.05 570.95,100.05 571.32,100.05 571.68,100.05 572.05,100.05 572.41,100.05 572.78,100.05 573.14,100.05 573.51,100.05 573.88,100.05 574.24,100.05 574.61,100.05 574.97,100.05 575.34,100.05 575.7,100.05 576.07,100.05 576.43,100.05 576.8,100.05 577.17,100.05 577.53,100.05 577.9,100.05 578.26,100.05 578.63,100.05 578.99,100.05 579.36,100.05 579.73,100.05 580.09,100.05 580.46,100.05 580.82,100.05 581.19,100.05 581.55,100.05 581.92,100.05 582.28,100.05 582.65,100.05 583.02,100.05 583.38,100.05 583.75,100.05 584.11,100.05 584.48,100.05 584.84,100.05 585.21,100.05 585.58,100.05 585.94,100.05 586.31,100.05 586.67,100.05 587.04,100.05 587.4,100.05 587.77,100.05 588.13,100.05 588.5,100.05 588.87,100.05 589.23,100.05 589.6,100.05 589.96,100.05 590.33,100.05 590.69,100.05 591.06,100.05 591.42,100.05 591.79,100.05 592.16,100.05 592.52,100.05 592.89,100.05 593.25,100.05 593.62,100.05 593.98,100.05 594.35,100.05 594.72,100.05 595.08,100.05 595.45,100.05 595.81,100.05 596.18,100.05 596.54,100.05 596.91,100.05 597.27,100.05 597.64,100.05 598.01,100.05 598.37,100.05 598.74,100.05 599.1,100.05 599.47,100.05 599.83,100.05 600.2,100.05 600.57,100.05 600.93,100.05 601.3,100.05 601.66,100.05 602.03,100.05 602.39,100.05 602.76,100.05 603.12,100.05 603.49,100.05 603.86,100.05 604.22,100.05 604.59,100.05 604.95,100.05 605.32,100.05 605.68,100.05 606.05,100.05 606.41,100.05 606.78,100.05 607.15,100.05 607.51,100.05 607.88,100.05 608.24,100.05 608.61,100.05 608.97,100.05 609.34,100.05 609.71,100.05 610.07,100.05 610.44,100.05 610.8,100.05 611.17,100.05 611.53,100.05 611.9,100.05 612.26,100.05 612.63,100.05 613,100.05 613.36,100.05 613.73,100.05 614.09,100.05 614.46,100.05 614.82,100.05 615.19,100.05 615.56,100.05 615.92,100.05 616.29,100.05 616.65,100.05 617.02,100.05 617.38,100.05 617.75,100.05 618.11,100.05 618.48,100.05 618.85,100.05 619.21,100.05 619.58,100.05 619.94,100.05 620.31,100.05 620.67,100.05 621.04,100.05 621.4,100.05 621.77,100.05 622.14,100.05 622.5,100.05 622.87,100.05 623.23,100.05 623.6,100.05 623.96,100.05 624.33,100.05 624.7,100.05 625.06,100.05 625.43,100.05 625.79,100.05 626.16,100.05 626.52,100.05 626.89,100.05 627.25,100.05 627.62,100.05 627.99,100.05 628.35,100.05 628.72,100.05 629.08,100.05 629.45,100.05 629.81,100.05 630.18,100.05 630.55,100.05 630.91,100.05 631.28,100.05 631.64,100.05 632.01,100.05 632.37,100.05 632.74,100.05 633.1,100.05 633.47,100.05 633.84,100.05 634.2,100.05 634.57,100.05 634.93,100.05 635.3,100.05 635.66,100.05 636.03,100.05 636.39,100.05 636.76,100.05 637.13,100.05 637.49,100.05 637.86,100.05 638.22,100.05 638.59,100.06 638.95,100.06 639.32,100.06 639.69,100.06 640.05,100.06 640.42,100.06 640.78,100.06 641.15,100.06 641.51,100.06 641.88,100.06 642.24,100.07 642.61,100.07 642.98,100.07 643.34,100.07 643.71,100.07 644.07,100.08 644.44,100.08 644.8,100.08 645.17,100.09 645.54,100.09 645.9,100.1 646.27,100.1 646.63,100.11 647,100.12 647.36,100.13 647.73,100.13 648.09,100.14 648.46,100.16 648.83,100.17 649.19,100.18 649.56,100.2 649.92,100.21 650.29,100.23 650.65,100.26 651.02,100.28 651.38,100.31 651.75,100.34 652.12,100.37 652.48,100.41 652.85,100.45 653.21,100.5 653.58,100.55 653.94,100.61 654.31,100.67 654.68,100.74 655.04,100.83 655.41,100.92 655.77,101.02 656.14,101.13 656.5,101.26 656.87,101.4 657.23,101.56 657.6,101.74 657.97,101.94 658.33,102.16 658.7,102.41 659.06,102.68 659.43,102.99 659.79,103.34 660.16,103.72 660.53,104.15 660.89,104.63 661.26,105.17 661.62,105.77 661.99,106.45 662.35,107.2 662.72,108.03 663.08,108.97 663.45,110.02 663.82,111.19 664.18,112.5 664.55,113.96 664.91,115.59" fill="none" stroke="#f0402a" stroke-width="2" stroke-dasharray="4.4 6.6"/>
<rect x="220.4" y="207.6" width="97.65" height="88.65" fill="#fcf0e8"/>
<rect x="220.4" y="207.6" width="130.2" height="88.65" fill="none" stroke="#8a8a8a" stroke-width="1"/>
<line x1="220.4" y1="296.25" x2="220.4" y2="292.75" stroke="#8a8a8a" stroke-width="1"/>
<text x="212.81" y="307" font-size="10.3" textLength="15.17" lengthAdjust="spacingAndGlyphs" fill="#3d3d3d">0.0</text>
<line x1="252.95" y1="296.25" x2="252.95" y2="292.75" stroke="#8a8a8a" stroke-width="1"/>
<text x="245.36" y="307" font-size="10.3" textLength="15.17" lengthAdjust="spacingAndGlyphs" fill="#3d3d3d">0.3</text>
<line x1="285.5" y1="296.25" x2="285.5" y2="292.75" stroke="#8a8a8a" stroke-width="1"/>
<text x="277.92" y="307" font-size="10.3" textLength="15.04" lengthAdjust="spacingAndGlyphs" fill="#3d3d3d">0.6</text>
<line x1="318.05" y1="296.25" x2="318.05" y2="292.75" stroke="#8a8a8a" stroke-width="1"/>
<text x="310.46" y="307" font-size="10.3" textLength="15.17" lengthAdjust="spacingAndGlyphs" fill="#3d3d3d">0.9</text>
<line x1="350.6" y1="296.25" x2="350.6" y2="292.75" stroke="#8a8a8a" stroke-width="1"/>
<text x="342.41" y="307" font-size="10.3" textLength="15.99" lengthAdjust="spacingAndGlyphs" fill="#3d3d3d">1.2</text>
<line x1="236.68" y1="296.25" x2="236.68" y2="294.25" stroke="#8a8a8a" stroke-width="1"/>
<line x1="269.23" y1="296.25" x2="269.23" y2="294.25" stroke="#8a8a8a" stroke-width="1"/>
<line x1="301.77" y1="296.25" x2="301.77" y2="294.25" stroke="#8a8a8a" stroke-width="1"/>
<line x1="334.33" y1="296.25" x2="334.33" y2="294.25" stroke="#8a8a8a" stroke-width="1"/>
<line x1="220.4" y1="296.25" x2="223.9" y2="296.25" stroke="#8a8a8a" stroke-width="1"/>
<text x="195.32" y="299.55" font-size="10.3" textLength="20.96" lengthAdjust="spacingAndGlyphs" fill="#3d3d3d">0.00</text>
<line x1="220.4" y1="251.93" x2="223.9" y2="251.93" stroke="#8a8a8a" stroke-width="1"/>
<text x="195.32" y="255.23" font-size="10.3" textLength="20.96" lengthAdjust="spacingAndGlyphs" fill="#3d3d3d">0.03</text>
<line x1="220.4" y1="207.6" x2="223.9" y2="207.6" stroke="#8a8a8a" stroke-width="1"/>
<text x="195.32" y="210.9" font-size="10.3" textLength="20.83" lengthAdjust="spacingAndGlyphs" fill="#3d3d3d">0.06</text>
<line x1="220.4" y1="274.09" x2="222.4" y2="274.09" stroke="#8a8a8a" stroke-width="1"/>
<line x1="220.4" y1="229.76" x2="222.4" y2="229.76" stroke="#8a8a8a" stroke-width="1"/>
<clipPath id="zc"><rect x="220.4" y="207.6" width="130.2" height="88.65"/></clipPath>
<polyline clip-path="url(#zc)" points="220.4,282.21 231.25,282.36 242.1,282.51 252.95,282.8 263.8,283.4 274.65,283.99 285.5,284.28 296.35,282.66 307.2,278.82 318.05,269.95 328.9,259.31 339.75,243.95 350.6,224.89 361.45,203.46 372.3,179.82" fill="none" stroke="#41b2e8" stroke-width="1.5" stroke-linejoin="round"/>
<circle cx="220.4" cy="282.21" r="2.5" fill="#41b2e8"/>
<circle cx="231.25" cy="282.36" r="2.5" fill="#41b2e8"/>
<circle cx="242.1" cy="282.51" r="2.5" fill="#41b2e8"/>
<circle cx="252.95" cy="282.8" r="2.5" fill="#41b2e8"/>
<circle cx="263.8" cy="283.4" r="2.5" fill="#41b2e8"/>
<circle cx="274.65" cy="283.99" r="2.5" fill="#41b2e8"/>
<circle cx="285.5" cy="284.28" r="2.5" fill="#41b2e8"/>
<circle cx="296.35" cy="282.66" r="2.5" fill="#41b2e8"/>
<circle cx="307.2" cy="278.82" r="2.5" fill="#41b2e8"/>
<circle cx="318.05" cy="269.95" r="2.5" fill="#41b2e8"/>
<circle cx="328.9" cy="259.31" r="2.5" fill="#41b2e8"/>
<circle cx="339.75" cy="243.95" r="2.5" fill="#41b2e8"/>
<circle cx="350.6" cy="224.89" r="2.5" fill="#41b2e8"/>
<polyline clip-path="url(#zc)" points="220.4,283.54 231.25,283.99 242.1,284.43 252.95,285.02 263.8,285.91 274.65,286.79 285.5,287.38 296.35,285.17 307.2,278.37 318.05,267.44 328.9,252.37 339.75,232.27 350.6,207.6 361.45,183.37 372.3,158.06" fill="none" stroke="#50284a" stroke-width="1.5" stroke-linejoin="round"/>
<circle cx="220.4" cy="283.54" r="2.5" fill="#50284a"/>
<circle cx="231.25" cy="283.99" r="2.5" fill="#50284a"/>
<circle cx="242.1" cy="284.43" r="2.5" fill="#50284a"/>
<circle cx="252.95" cy="285.02" r="2.5" fill="#50284a"/>
<circle cx="263.8" cy="285.91" r="2.5" fill="#50284a"/>
<circle cx="274.65" cy="286.79" r="2.5" fill="#50284a"/>
<circle cx="285.5" cy="287.38" r="2.5" fill="#50284a"/>
<circle cx="296.35" cy="285.17" r="2.5" fill="#50284a"/>
<circle cx="307.2" cy="278.37" r="2.5" fill="#50284a"/>
<circle cx="318.05" cy="267.44" r="2.5" fill="#50284a"/>
<circle cx="328.9" cy="252.37" r="2.5" fill="#50284a"/>
<circle cx="339.75" cy="232.27" r="2.5" fill="#50284a"/>
<circle cx="350.6" cy="207.6" r="2.5" fill="#50284a"/>
<polyline clip-path="url(#zc)" points="220.4,284.28 231.25,284.73 242.1,285.17 252.95,285.76 263.8,286.79 274.65,287.83 285.5,288.71 296.35,286.5 307.2,280 318.05,271.43 328.9,249.86 339.75,226.96 350.6,202.43 361.45,174.8 372.3,150.68" fill="none" stroke="#f0402a" stroke-width="1.5" stroke-linejoin="round"/>
<circle cx="220.4" cy="284.28" r="2.5" fill="#f0402a"/>
<circle cx="231.25" cy="284.73" r="2.5" fill="#f0402a"/>
<circle cx="242.1" cy="285.17" r="2.5" fill="#f0402a"/>
<circle cx="252.95" cy="285.76" r="2.5" fill="#f0402a"/>
<circle cx="263.8" cy="286.79" r="2.5" fill="#f0402a"/>
<circle cx="274.65" cy="287.83" r="2.5" fill="#f0402a"/>
<circle cx="285.5" cy="288.71" r="2.5" fill="#f0402a"/>
<circle cx="296.35" cy="286.5" r="2.5" fill="#f0402a"/>
<circle cx="307.2" cy="280" r="2.5" fill="#f0402a"/>
<circle cx="318.05" cy="271.43" r="2.5" fill="#f0402a"/>
<circle cx="328.9" cy="249.86" r="2.5" fill="#f0402a"/>
<circle cx="339.75" cy="226.96" r="2.5" fill="#f0402a"/>
<polyline clip-path="url(#zc)" points="220.4,284.87 231.25,285.32 242.1,285.76 252.95,286.5 263.8,287.68 274.65,289.16 285.5,290.93 296.35,289.9 307.2,282.95 318.05,266.7 328.9,241.88 339.75,216.47 350.6,191.35 361.45,163.28 372.3,140.96" fill="none" stroke="#fdca22" stroke-width="1.5" stroke-linejoin="round"/>
<circle cx="220.4" cy="284.87" r="2.5" fill="#fdca22"/>
<circle cx="231.25" cy="285.32" r="2.5" fill="#fdca22"/>
<circle cx="242.1" cy="285.76" r="2.5" fill="#fdca22"/>
<circle cx="252.95" cy="286.5" r="2.5" fill="#fdca22"/>
<circle cx="263.8" cy="287.68" r="2.5" fill="#fdca22"/>
<circle cx="274.65" cy="289.16" r="2.5" fill="#fdca22"/>
<circle cx="285.5" cy="290.93" r="2.5" fill="#fdca22"/>
<circle cx="296.35" cy="289.9" r="2.5" fill="#fdca22"/>
<circle cx="307.2" cy="282.95" r="2.5" fill="#fdca22"/>
<circle cx="318.05" cy="266.7" r="2.5" fill="#fdca22"/>
<circle cx="328.9" cy="241.88" r="2.5" fill="#fdca22"/>
<circle cx="339.75" cy="216.47" r="2.5" fill="#fdca22"/>
</svg></body></html>
